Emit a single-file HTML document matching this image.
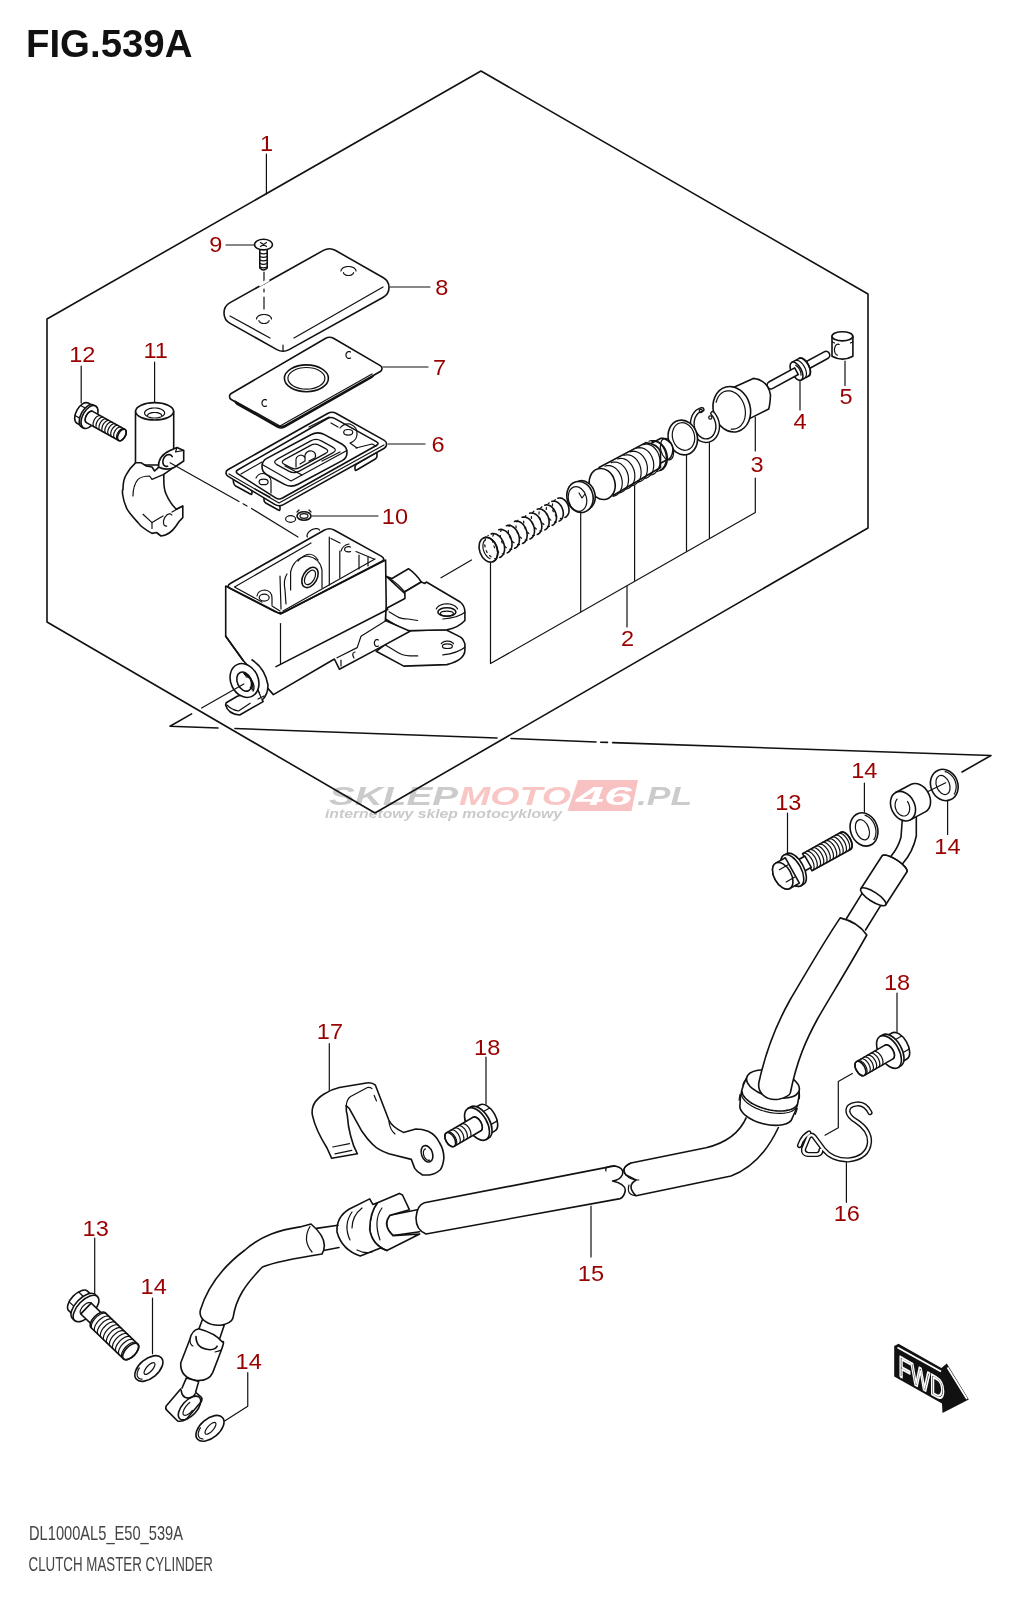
<!DOCTYPE html>
<html><head><meta charset="utf-8">
<style>
html,body{margin:0;padding:0;background:#fff;width:1024px;height:1600px;overflow:hidden}
svg{display:block;will-change:transform}
text{-webkit-font-smoothing:antialiased}
.l{fill:none;stroke:#111;stroke-width:1.6;stroke-linejoin:round;stroke-linecap:round}
.t{fill:none;stroke:#111;stroke-width:1.2;stroke-linecap:round;stroke-linejoin:round}
.f{fill:#fff;stroke:#111;stroke-width:1.6;stroke-linejoin:round}
.n{font-family:"Liberation Sans",sans-serif;font-size:22px;fill:#990000}
</style></head>
<body>
<svg width="1024" height="1600" viewBox="0 0 1024 1600">
<text x="26" y="56.5" font-family="Liberation Sans,sans-serif" font-weight="bold" font-size="38.4" fill="#111">FIG.539A</text>
<g id="wm">
<text x="329" y="805" font-family="Liberation Sans,sans-serif" font-weight="bold" font-style="italic" font-size="25" fill="#cbcbcb" textLength="129" lengthAdjust="spacingAndGlyphs">SKLEP</text>
<text x="459" y="805" font-family="Liberation Sans,sans-serif" font-weight="bold" font-style="italic" font-size="25" fill="#f9c6c6" textLength="112" lengthAdjust="spacingAndGlyphs">MOTO</text>
<path d="M578,780 L638,780 L631.5,811 L567.5,811 Z" fill="#f8c2c2"/>
<text x="576" y="805" font-family="Liberation Sans,sans-serif" font-weight="bold" font-style="italic" font-size="25" fill="#fff" textLength="56" lengthAdjust="spacingAndGlyphs">46</text>
<text x="637" y="805" font-family="Liberation Sans,sans-serif" font-weight="bold" font-style="italic" font-size="25" fill="#cbcbcb" textLength="55" lengthAdjust="spacingAndGlyphs">.PL</text>
<text x="325" y="818" font-family="Liberation Sans,sans-serif" font-weight="bold" font-style="italic" font-size="12.5" fill="#cacaca" textLength="237" lengthAdjust="spacingAndGlyphs">internetowy sklep motocyklowy</text>
</g>
<path class="l" d="M47,622 L47,319 L481,71 L868,294 L868,528 L375,813 Z" />
<path class="l" d="M191.6,713.9 L170,726.2 L218,728 M235,728.5 L497,738 M511,738.5 L596,742 M600.7,742.2 L607.5,742.4 M612.6,742.6 L991,755.5 L962,772" />
<path class="t" d="M266.4,154 L266.4,194" />
<path class="t" d="M226,245 L255,245" />
<path class="t" d="M390,287 L430,287" />
<path class="t" d="M383,367 L428,367" />
<path class="t" d="M388,444 L425,444" />
<path class="t" d="M312,516 L378,516" />
<path class="t" d="M81.2,366 L81.2,403" />
<path class="t" d="M154.6,362 L154.6,402" />
<path class="t" d="M490.5,563 L490.5,663.6 L755.3,512.5 L755.3,478 M755.3,451 L755.3,417" />
<path class="t" d="M580.7,512.5 L580.7,612" />
<path class="t" d="M634.6,485.5 L634.6,580.5" />
<path class="t" d="M686.5,455 L686.5,551" />
<path class="t" d="M709.4,442 L709.4,538" />
<path class="t" d="M627,586 L627,627" />
<path class="t" d="M800,381.5 L800,410" />
<path class="t" d="M845,361 L845,385.6" />
<path class="t" d="M864.4,783 L864.4,812" />
<path class="t" d="M787.5,813 L787.5,853" />
<path class="t" d="M947.6,799 L947.6,834.4" />
<path class="t" d="M897,993 L897,1032" />
<path class="t" d="M852.3,1073.4 L838.3,1081.5 L838.3,1127.7 L825,1135.2" />
<path class="t" d="M846.4,1162.6 L846.4,1202.3" />
<path class="t" d="M329.3,1043.7 L329.3,1093" />
<path class="t" d="M486,1057 L486,1104.3" />
<path class="t" d="M591,1206 L591,1257" />
<path class="t" d="M94.7,1238 L94.7,1294" />
<path class="t" d="M152.5,1298 L152.5,1353.8" />
<path class="t" d="M247.75,1372.5 L247.75,1406.3 L224.6,1421" />
<g id="p9">
<path class="l" d="M259.8,249 L259.8,268 Q263.5,272 267.2,268 L267.2,249" />
<path class="t" d="M260,253 Q263.5,254.8 267,253" />
<path class="t" d="M260,256.5 Q263.5,258.3 267,256.5" />
<path class="t" d="M260,260 Q263.5,261.8 267,260" />
<path class="t" d="M260,263.5 Q263.5,265.3 267,263.5" />
<path class="t" d="M260,267 Q263.5,268.8 267,267" />
<ellipse class="f" cx="263.5" cy="244.6" rx="9.0" ry="5.3" transform="rotate(0 263.5 244.6)" />
<path class="t" d="M260.5,242.5 L266.5,246.5 M260.5,246.5 L266.5,242.5" />
</g>
<g id="p8">
<path class="f" d="M230.1,302.6 L323.4,250.4 Q329.5,247.0 335.6,250.5 L383.4,277.8 Q389.0,281.0 389.0,287.5 L389.0,287.5 Q389.0,294.0 383.3,297.2 L289.1,349.6 Q283.0,353.0 276.9,349.6 L230.1,323.4 Q224.0,320.0 224.0,313.0 L224.0,313.0 Q224.0,306.0 230.1,302.6 Z" />
<path class="t" d="M230,316 L270,338 M294,338 L383,287" />
<path class="t" d="M283,345 L283,351" />
<path class="t" d="M264,272 L264,284 M264,289 L264,292 M264,297 L264,309" />
<path class="" d="M259,285.5 L269,279.8" stroke="#fff" stroke-width="3"/>
<path class="t" d="M341.0,271.0 L341.1,270.4 L341.3,269.8 L341.6,269.3 L342.0,268.8 L342.5,268.3 L343.2,267.8 L343.9,267.4 L344.8,267.1 L345.6,266.8 L346.6,266.7 L347.5,266.5 L348.5,266.5 L349.5,266.5 L350.4,266.7 L351.4,266.8 L352.2,267.1 L353.1,267.4 L353.8,267.8 L354.5,268.3 L355.0,268.8 L355.4,269.3 L355.7,269.8 L355.9,270.4 L356.0,271.0" />
<path class="t" d="M353.5,272.5 L353.5,272.9 L353.3,273.3 L353.1,273.6 L352.8,274.0 L352.5,274.3 L352.0,274.6 L351.5,274.9 L351.0,275.1 L350.4,275.3 L349.8,275.4 L349.2,275.5 L348.5,275.5 L347.8,275.5 L347.2,275.4 L346.6,275.3 L346.0,275.1 L345.5,274.9 L345.0,274.6 L344.5,274.3 L344.2,274.0 L343.9,273.6 L343.7,273.3 L343.5,272.9 L343.5,272.5" />
<path class="t" d="M256.5,319.0 L256.6,318.4 L256.8,317.8 L257.1,317.3 L257.5,316.8 L258.0,316.3 L258.7,315.8 L259.4,315.4 L260.2,315.1 L261.1,314.8 L262.1,314.7 L263.0,314.5 L264.0,314.5 L265.0,314.5 L265.9,314.7 L266.9,314.8 L267.8,315.1 L268.6,315.4 L269.3,315.8 L270.0,316.3 L270.5,316.8 L270.9,317.3 L271.2,317.8 L271.4,318.4 L271.5,319.0" />
<path class="t" d="M269.0,320.5 L269.0,320.9 L268.8,321.3 L268.6,321.6 L268.3,322.0 L268.0,322.3 L267.5,322.6 L267.0,322.9 L266.5,323.1 L265.9,323.3 L265.3,323.4 L264.7,323.5 L264.0,323.5 L263.3,323.5 L262.7,323.4 L262.1,323.3 L261.5,323.1 L261.0,322.9 L260.5,322.6 L260.0,322.3 L259.7,322.0 L259.4,321.6 L259.2,321.3 L259.0,320.9 L259.0,320.5" />
</g>
<g id="p7">
<path class="f" d="M237.2,396.8 L325.5,346.0 Q329.0,344.0 332.5,346.0 L371.4,368.5 Q374.0,370.0 374.0,373.0 L374.0,373.0 Q374.0,376.0 371.4,377.5 L284.5,427.0 Q281.0,429.0 277.5,427.0 L237.2,404.2 Q235.0,403.0 235.0,400.5 L235.0,400.5 Q235.0,398.0 237.2,396.8 Z" />
<path class="f" d="M231.2,393.5 L325.3,338.5 Q329.6,336.0 333.9,338.5 L380.3,365.6 Q382.0,366.6 382.0,368.6 L382.0,368.6 Q382.0,370.5 380.3,371.5 L285.1,425.5 Q280.8,428.0 276.5,425.5 L231.2,399.5 Q229.5,398.5 229.5,396.5 L229.5,396.5 Q229.5,394.5 231.2,393.5 Z" />
<path class="t" d="M235,401 L280,426 L372,374" />
<ellipse class="l" cx="306.4" cy="378.3" rx="22.0" ry="13.4" transform="rotate(0 306.4 378.3)" />
<ellipse class="t" cx="306.4" cy="378.3" rx="18.5" ry="10.8" transform="rotate(0 306.4 378.3)" />
<path class="t" d="M350.5,358.0 L350.0,358.3 L349.5,358.4 L349.0,358.5 L348.5,358.4 L348.0,358.3 L347.5,358.0 L347.1,357.7 L346.7,357.2 L346.4,356.8 L346.2,356.2 L346.0,355.6 L346.0,355.0 L346.0,354.4 L346.2,353.8 L346.4,353.2 L346.7,352.8 L347.1,352.3 L347.5,352.0 L348.0,351.7 L348.5,351.6 L349.0,351.5 L349.5,351.6 L350.0,351.7 L350.5,352.0" />
<path class="t" d="M266.5,406.0 L266.0,406.3 L265.5,406.4 L265.0,406.5 L264.5,406.4 L264.0,406.3 L263.5,406.0 L263.1,405.7 L262.7,405.2 L262.4,404.8 L262.2,404.2 L262.0,403.6 L262.0,403.0 L262.0,402.4 L262.2,401.8 L262.4,401.2 L262.7,400.8 L263.1,400.3 L263.5,400.0 L264.0,399.7 L264.5,399.6 L265.0,399.5 L265.5,399.6 L266.0,399.7 L266.5,400.0" />
</g>
<g id="p6">
<path class="f" d="M234.7,480.0 L250.3,489.0 Q252.0,490.0 252.0,492.0 L252.0,493.0 Q252.0,495.0 250.3,494.0 L235.7,486.0 Q234.0,485.0 233.7,483.0 L233.3,481.0 Q233.0,479.0 234.7,480.0 Z" />
<path class="f" d="M265.7,497.0 L278.3,504.0 Q280.0,505.0 280.0,507.0 L280.0,509.0 Q280.0,511.0 278.3,510.0 L265.7,503.0 Q264.0,502.0 264.0,500.0 L264.0,498.0 Q264.0,496.0 265.7,497.0 Z" />
<path class="f" d="M356.7,464.0 L375.3,453.0 Q377.0,452.0 377.0,454.0 L377.0,456.0 Q377.0,458.0 375.3,459.0 L356.7,470.0 Q355.0,471.0 355.0,469.0 L355.0,467.0 Q355.0,465.0 356.7,464.0 Z" />
<path class="f" d="M227.8,469.8 L327.6,413.5 Q332.0,411.0 336.4,413.5 L384.3,440.4 Q386.6,441.7 386.6,444.3 L386.6,444.3 Q386.6,446.9 384.3,448.2 L283.4,504.6 Q279.0,507.0 274.7,504.4 L227.8,476.1 Q226.0,475.0 226.0,472.9 L226.0,472.9 Q226.0,470.8 227.8,469.8 Z" />
<path class="t" d="M229,474 L279,503 L384,445" />
<path class="l" d="M238.0,469.7 L327.5,418.5 Q331.0,416.5 334.5,418.4 L376.3,441.6 Q379.8,443.5 376.3,445.5 L282.5,498.0 Q279.0,500.0 275.6,497.9 L237.9,473.8 Q234.5,471.7 238.0,469.7 Z" />
<path class="t" d="M241,474 L262,462 M309,427 L329,417 M331,423 L338,427" />
<path class="t" d="M356,448 L372,444 L376,446 M255,489 L270,497" />
<path class="t" d="M340,428 Q344,423 350,424 Q358,427 357,435 Q356,441 350,443 L357,448" />
<ellipse class="t" cx="348.2" cy="432.3" rx="4.5" ry="2.8" transform="rotate(0 348.2 432.3)" />
<path class="t" d="M256,478 Q259,472 266,474 Q272,477 271,485 L271,493" />
<ellipse class="t" cx="263.6" cy="481.9" rx="4.5" ry="2.8" transform="rotate(0 263.6 481.9)" />
<path class="f" d="M266.8,458.4 L310.9,434.8 Q318.0,431.0 325.0,434.9 L342.2,444.3 Q347.0,447.0 347.0,452.5 L347.0,452.5 Q347.0,458.0 342.2,460.6 L298.1,484.2 Q291.0,488.0 284.0,484.1 L266.8,474.7 Q262.0,472.0 262.0,466.5 L262.0,466.5 Q262.0,461.0 266.8,458.4 Z" />
<path class="t" d="M263,465 L291,481 L346,451" />
<path class="t" d="M277.3,459.1 L310.7,440.9 Q316.0,438.0 321.3,440.9 L332.7,447.1 Q338.0,450.0 332.7,452.9 L299.3,471.1 Q294.0,474.0 288.7,471.1 L277.3,464.9 Q272.0,462.0 277.3,459.1 Z" />
<path class="t" d="M284.4,459.6 L310.6,445.4 Q315.0,443.0 319.4,445.4 L325.6,448.6 Q330.0,451.0 325.6,453.4 L299.4,467.6 Q295.0,470.0 290.6,467.6 L284.4,464.4 Q280.0,462.0 284.4,459.6 Z" />
<path class="t" d="M285,466 L302,475 M322,461 L340,452" />
<path class="t" d="M296,467 L296,462 Q295,456 301,455 Q306,456 305,461 L300,464 M305,459 L305,455 Q307,450 312,451 Q317,453 315,458 L309,461" />
</g>
<g id="p10">
<ellipse class="t" cx="290.6" cy="519.0" rx="5.0" ry="3.3" transform="rotate(0 290.6 519.0)" />
<ellipse class="l" cx="304.0" cy="516.0" rx="7.0" ry="4.3" transform="rotate(0 304.0 516.0)" />
<ellipse class="t" cx="304.0" cy="516.0" rx="4.0" ry="2.3" transform="rotate(0 304.0 516.0)" />
<path class="t" d="M297,512 L299,510 M309,510 L311,512" />
</g>
<g transform="translate(89.5,417.0) rotate(29.0)">
<path class="f" d="M-2,-11.5 L-8,-11.5 A6.3,11.5 0 0 0 -8,11.5 L-2,11.5 Z" />
<path class="t" d="M-13.4,-5.8 L-2,-5.8 M-13.4,5.8 L-2,5.8" />
<path class="f" d="M0,-12.5 L-2,-12.5 A6.9,12.5 0 0 0 -2,12.5 L0,12.5 Z" />
<ellipse class="f" cx="0.0" cy="0.0" rx="6.9" ry="12.5" transform="rotate(0 0.0 0.0)" />
<path class="f" d="M0,-6.4 L37,-6.4 A3.5,6.4 0 0 1 37,6.4 L0,6.4 A3.5,6.4 0 0 1 0,-6.4 Z" />
<path class="t" d="M0.0,6.4 L-0.5,6.3 L-0.9,6.2 L-1.3,5.9 L-1.8,5.5 L-2.1,5.1 L-2.5,4.5 L-2.8,3.9 L-3.0,3.2 L-3.3,2.4 L-3.4,1.7 L-3.5,0.8 L-3.5,0.0 L-3.5,-0.8 L-3.4,-1.7 L-3.3,-2.4 L-3.0,-3.2 L-2.8,-3.9 L-2.5,-4.5 L-2.1,-5.1 L-1.8,-5.5 L-1.3,-5.9 L-0.9,-6.2 L-0.5,-6.3 L-0.0,-6.4" />
<path class="t" d="M8.9,6.4 L8.5,6.3 L8.0,6.1 L7.6,5.8 L7.2,5.5 L6.9,5.0 L6.5,4.4 L6.2,3.8 L6.0,3.1 L5.8,2.4 L5.7,1.6 L5.6,0.8 L5.5,0.0 L5.6,-0.8 L5.7,-1.6 L5.8,-2.4 L6.0,-3.1 L6.2,-3.8 L6.5,-4.4 L6.9,-5.0 L7.2,-5.5 L7.6,-5.8 L8.0,-6.1 L8.5,-6.3 L8.9,-6.4" />
<path class="t" d="M12.3,6.4 L11.8,6.3 L11.4,6.1 L11.0,5.8 L10.6,5.5 L10.2,5.0 L9.9,4.4 L9.6,3.8 L9.3,3.1 L9.2,2.4 L9.0,1.6 L8.9,0.8 L8.9,0.0 L8.9,-0.8 L9.0,-1.6 L9.2,-2.4 L9.3,-3.1 L9.6,-3.8 L9.9,-4.4 L10.2,-5.0 L10.6,-5.5 L11.0,-5.8 L11.4,-6.1 L11.8,-6.3 L12.3,-6.4" />
<path class="t" d="M15.7,6.4 L15.2,6.3 L14.8,6.1 L14.3,5.8 L13.9,5.5 L13.6,5.0 L13.2,4.4 L13.0,3.8 L12.7,3.1 L12.5,2.4 L12.4,1.6 L12.3,0.8 L12.3,0.0 L12.3,-0.8 L12.4,-1.6 L12.5,-2.4 L12.7,-3.1 L13.0,-3.8 L13.2,-4.4 L13.6,-5.0 L13.9,-5.5 L14.3,-5.8 L14.8,-6.1 L15.2,-6.3 L15.7,-6.4" />
<path class="t" d="M19.0,6.4 L18.6,6.3 L18.1,6.1 L17.7,5.8 L17.3,5.5 L16.9,5.0 L16.6,4.4 L16.3,3.8 L16.1,3.1 L15.9,2.4 L15.7,1.6 L15.6,0.8 L15.6,0.0 L15.6,-0.8 L15.7,-1.6 L15.9,-2.4 L16.1,-3.1 L16.3,-3.8 L16.6,-4.4 L16.9,-5.0 L17.3,-5.5 L17.7,-5.8 L18.1,-6.1 L18.6,-6.3 L19.0,-6.4" />
<path class="t" d="M22.4,6.4 L21.9,6.3 L21.5,6.1 L21.1,5.8 L20.7,5.5 L20.3,5.0 L20.0,4.4 L19.7,3.8 L19.4,3.1 L19.2,2.4 L19.1,1.6 L19.0,0.8 L19.0,0.0 L19.0,-0.8 L19.1,-1.6 L19.2,-2.4 L19.4,-3.1 L19.7,-3.8 L20.0,-4.4 L20.3,-5.0 L20.7,-5.5 L21.1,-5.8 L21.5,-6.1 L21.9,-6.3 L22.4,-6.4" />
<path class="t" d="M25.7,6.4 L25.3,6.3 L24.9,6.1 L24.4,5.8 L24.0,5.5 L23.7,5.0 L23.3,4.4 L23.0,3.8 L22.8,3.1 L22.6,2.4 L22.5,1.6 L22.4,0.8 L22.3,0.0 L22.4,-0.8 L22.5,-1.6 L22.6,-2.4 L22.8,-3.1 L23.0,-3.8 L23.3,-4.4 L23.7,-5.0 L24.0,-5.5 L24.4,-5.8 L24.9,-6.1 L25.3,-6.3 L25.7,-6.4" />
<path class="t" d="M29.1,6.4 L28.7,6.3 L28.2,6.1 L27.8,5.8 L27.4,5.5 L27.0,5.0 L26.7,4.4 L26.4,3.8 L26.2,3.1 L26.0,2.4 L25.8,1.6 L25.7,0.8 L25.7,0.0 L25.7,-0.8 L25.8,-1.6 L26.0,-2.4 L26.2,-3.1 L26.4,-3.8 L26.7,-4.4 L27.0,-5.0 L27.4,-5.5 L27.8,-5.8 L28.2,-6.1 L28.7,-6.3 L29.1,-6.4" />
<path class="t" d="M32.5,6.4 L32.0,6.3 L31.6,6.1 L31.2,5.8 L30.8,5.5 L30.4,5.0 L30.1,4.4 L29.8,3.8 L29.5,3.1 L29.3,2.4 L29.2,1.6 L29.1,0.8 L29.1,0.0 L29.1,-0.8 L29.2,-1.6 L29.3,-2.4 L29.5,-3.1 L29.8,-3.8 L30.1,-4.4 L30.4,-5.0 L30.8,-5.5 L31.2,-5.8 L31.6,-6.1 L32.0,-6.3 L32.5,-6.4" />
<path class="t" d="M35.8,6.4 L35.4,6.3 L34.9,6.1 L34.5,5.8 L34.1,5.5 L33.7,5.0 L33.4,4.4 L33.1,3.8 L32.9,3.1 L32.7,2.4 L32.5,1.6 L32.5,0.8 L32.4,0.0 L32.5,-0.8 L32.5,-1.6 L32.7,-2.4 L32.9,-3.1 L33.1,-3.8 L33.4,-4.4 L33.7,-5.0 L34.1,-5.5 L34.5,-5.8 L34.9,-6.1 L35.4,-6.3 L35.8,-6.4" />
<ellipse class="l" cx="37.0" cy="0.0" rx="3.5" ry="6.4" transform="rotate(0 37.0 0.0)" />
</g>
<g id="p11">
<path class="f" d="M135.5,411.3 L135.5,465 L173.7,465 L173.7,411.3 Z" />
<ellipse class="f" cx="154.6" cy="411.3" rx="19.0" ry="8.7" transform="rotate(0 154.6 411.3)" />
<path class="t" d="M144.6,413.0 L144.7,412.3 L144.9,411.7 L145.4,411.1 L145.9,410.5 L146.7,410.0 L147.5,409.5 L148.5,409.0 L149.6,408.7 L150.8,408.4 L152.0,408.2 L153.3,408.0 L154.6,408.0 L155.9,408.0 L157.2,408.2 L158.4,408.4 L159.6,408.7 L160.7,409.0 L161.7,409.5 L162.5,410.0 L163.3,410.5 L163.8,411.1 L164.3,411.7 L164.5,412.3 L164.6,413.0" />
<path class="t" d="M164.6,413.0 L164.5,413.7 L164.3,414.3 L163.8,414.9 L163.3,415.5 L162.5,416.0 L161.7,416.5 L160.7,417.0 L159.6,417.3 L158.4,417.6 L157.2,417.8 L155.9,418.0 L154.6,418.0 L153.3,418.0 L152.0,417.8 L150.8,417.6 L149.6,417.3 L148.5,417.0 L147.5,416.5 L146.7,416.0 L145.9,415.5 L145.4,414.9 L144.9,414.3 L144.7,413.7 L144.6,413.0" />
<path class="t" d="M147.6,415.5 L147.7,415.1 L147.8,414.7 L148.1,414.4 L148.5,414.0 L149.0,413.7 L149.7,413.4 L150.3,413.1 L151.1,412.9 L151.9,412.7 L152.8,412.6 L153.7,412.5 L154.6,412.5 L155.5,412.5 L156.4,412.6 L157.3,412.7 L158.1,412.9 L158.9,413.1 L159.5,413.4 L160.2,413.7 L160.7,414.0 L161.1,414.4 L161.4,414.7 L161.5,415.1 L161.6,415.5" />
<path class="f" d="M135.5,462.8 L141.3,462.8 L146.3,466 L152,467 L154.6,471 L158,467.8 L162,464.5 L172.9,467.8 L163.75,474.4 C164,482 163,488 166.2,494.3 C169,501 173,506 176.2,509.3 L182.8,506 L182.8,517.6 Q179,521 176,526 Q170,535 161,536 L156.5,532.5 L152,533.4 C146,530 141,527 138,522.6 C131,515 127,510 126.4,507.6 C122,498 122,489 123,489.4 C123,482 124,478 126.4,474.4 C129,469 132,466 135.5,462.8 Z" />
<path class="t" d="M133,496 C133,488 135,483 138,479.4 Q142,476 149.6,476 L152,479.4 L163.75,474.4" />
<path class="t" d="M143,514.3 L152,522.6 L152,528.4" />
<path class="t" d="M166.7,526.1 L166.0,526.1 L165.4,525.9 L164.8,525.6 L164.3,525.2 L163.9,524.6 L163.7,523.9 L163.5,523.0 L163.5,522.2 L163.5,521.2 L163.7,520.2 L164.0,519.3 L164.4,518.3 L164.9,517.4 L165.4,516.5 L166.1,515.8 L166.7,515.1 L167.4,514.6 L168.2,514.2 L168.9,514.0 L169.6,513.9 L170.3,513.9 L170.9,514.2 L171.4,514.5 L171.8,515.0" />
<path class="t" d="M172,512 L182.8,506 M152,522.6 L163,516" />
<path class="f" d="M158.5,467 Q158,456 170,450.5 L177,447.5 L183.7,450.4 L183.7,461 L174,467.5 Q166,471 158.5,467 Z" />
<path class="t" d="M177,447.5 L175.5,452 L183.7,450.4" />
<path class="l" d="M167.6,466.3 L166.8,466.4 L165.9,466.4 L165.2,466.1 L164.5,465.7 L163.9,465.1 L163.4,464.4 L163.1,463.6 L162.9,462.6 L162.9,461.6 L163.0,460.6 L163.2,459.6 L163.6,458.6 L164.1,457.6 L164.8,456.8 L165.5,456.0 L166.3,455.4 L167.1,454.9 L168.0,454.7 L168.8,454.6 L169.7,454.6 L170.4,454.9 L171.1,455.3 L171.7,455.9 L172.2,456.6" />
</g>
<path class="t" d="M170,462.8 L239,501.5 M243,503.8 L247,506 M251.5,508.5 L298,537" />
<g id="body">
<path class="f" d="M376.2,651.3 L403.8,666.1 L446.9,664.6 Q464.9,660 464.9,650 L464.9,644.1 Q463,638 460.2,636.9 L445.9,629.7 L403,631 Z" />
<path class="t" d="M385.4,645.1 L397,652 Q402,655.5 410,655.9 L417.7,655.9 M442.8,654.9 Q458,653 464.9,647.2" />
<path class="t" d="M441.3,643.7 L441.5,643.4 L441.9,643.0 L442.2,642.7 L442.7,642.4 L443.1,642.1 L443.7,641.8 L444.2,641.6 L444.8,641.4 L445.4,641.3 L446.1,641.2 L446.7,641.1 L447.4,641.1 L448.1,641.1 L448.7,641.2 L449.4,641.3 L450.0,641.4 L450.6,641.6 L451.1,641.8 L451.7,642.1 L452.1,642.4 L452.6,642.7 L452.9,643.0 L453.3,643.4 L453.5,643.7" />
<ellipse class="t" cx="447.4" cy="646.2" rx="5.0" ry="2.3" transform="rotate(0 447.4 646.2)" />
<path class="f" d="M386.4,576.4 L392,578.5 L408.5,568.7 Q416,574 421.3,582 L404.9,591.8 L408.5,596.9 Z" />
<path class="t" d="M386.4,576.4 Q400,584 408.5,596.9" />
<path class="f" d="M385.4,619 L385.4,612.3 Q385.5,609 388,607.5 L404.9,598.5 L404.9,591.8 L421.3,582 L424.9,583.4 L426.4,582 L460.2,602 Q464.9,606 464.9,612 L464.9,620.5 Q458,628 446.9,629.7 L404.9,630.8 Z" />
<path class="t" d="M389,611.8 L397,616.5 Q401,619 408,619 L417.7,620.5 M442.8,619 Q458,618 464.9,612.3" />
<path class="t" d="M436.3,609.0 L436.6,608.3 L437.1,607.6 L437.8,606.9 L438.5,606.3 L439.3,605.7 L440.2,605.2 L441.2,604.8 L442.3,604.5 L443.4,604.2 L444.5,604.0 L445.7,603.8 L446.9,603.8 L448.1,603.8 L449.3,604.0 L450.4,604.2 L451.5,604.5 L452.6,604.8 L453.6,605.2 L454.5,605.7 L455.3,606.3 L456.0,606.9 L456.7,607.6 L457.2,608.3 L457.5,609.0" />
<ellipse class="l" cx="446.9" cy="612.0" rx="9.0" ry="4.3" transform="rotate(0 446.9 612.0)" />
<ellipse class="t" cx="446.9" cy="613.6" rx="6.5" ry="2.4" transform="rotate(0 446.9 613.6)" />
<path class="f" d="M243,660.3 L273.4,694.6 L334.4,659 L339.4,669.2 L377.5,648.9 L410,631.3 L385.4,620.5 L386.2,605 L385.6,560 L280.5,614 L225.7,586 L225.7,636.2 Z" />
<path class="l" d="M230.7,583.2 L324.1,530.3 Q329.3,527.3 334.5,530.2 L381.2,556.1 Q386.4,559.0 381.1,561.8 L285.3,611.5 Q280.0,614.3 274.7,611.6 L230.8,588.9 Q225.5,586.2 230.7,583.2 Z" />
<path class="t" d="M234.5,587 L311,543 M234.5,587 L262,602 M272,606 L280,611 M283,611 L375,559" />
<path class="t" d="M331,538.5 L340,543 M356,551.5 L374,559" />
<path class="t" d="M329.3,537 L329.3,585 M339.8,551 L339.8,578 M359,555 L359,569 M368,557 L368,566" />
<path class="t" d="M280,576 L281,609 M287,574 Q283,580 285,590 L286,604" />
<path class="t" d="M290.6,590 L290.6,572 Q294,558 307,556 Q320,558 322,570 L322,588" />
<path class="t" d="M298,561 Q310,548 318,560" />
<ellipse class="l" cx="310.0" cy="577.4" rx="7.0" ry="11.0" transform="rotate(30 310.0 577.4)" />
<ellipse class="t" cx="310.0" cy="577.4" rx="4.5" ry="8.0" transform="rotate(30 310.0 577.4)" />
<ellipse class="t" cx="264.2" cy="597.6" rx="5.0" ry="3.5" transform="rotate(0 264.2 597.6)" />
<path class="t" d="M257,596 Q258,590 265,590 Q272,591 272,598 L272,605" />
<path class="t" d="M350.6,551.6 L350.0,551.7 L349.3,551.9 L348.6,551.9 L347.9,551.9 L347.2,551.7 L346.6,551.6 L346.0,551.3 L345.5,551.0 L345.1,550.6 L344.8,550.2 L344.7,549.8 L344.6,549.3 L344.7,548.8 L344.8,548.4 L345.1,548.0 L345.5,547.6 L346.0,547.3 L346.6,547.0 L347.2,546.9 L347.9,546.7 L348.6,546.7 L349.3,546.7 L350.0,546.9 L350.6,547.0" />
<path class="t" d="M341,551 Q343,545 349,544" />
<path class="t" d="M307.3,537.0 L307.1,536.5 L307.0,536.0 L307.0,535.4 L307.1,534.8 L307.4,534.2 L307.7,533.5 L308.1,532.9 L308.6,532.2 L309.2,531.6 L309.9,531.1 L310.6,530.5 L311.4,530.0 L312.2,529.6 L313.0,529.2 L313.9,529.0 L314.7,528.8 L315.5,528.6 L316.3,528.6 L317.0,528.6 L317.6,528.7 L318.2,528.9 L318.7,529.2 L319.1,529.6 L319.5,530.0" />
<path class="t" d="M280.5,623.5 L280.5,664" />
<path class="l" d="M276,666.6 L387.7,609.5" />
<path class="l" d="M225.7,636.2 L243,660.3" />
<path class="t" d="M337,657.8 L357.2,647.6 L361,636.2 L385.4,621" />
<path class="t" d="M341,660 L341,666 M354,658 Q351,653 355,652" />
<path class="t" d="M378.3,646.0 L377.9,646.3 L377.5,646.4 L377.0,646.5 L376.5,646.4 L376.1,646.3 L375.7,646.0 L375.3,645.7 L375.0,645.2 L374.7,644.8 L374.6,644.2 L374.4,643.6 L374.4,643.0 L374.4,642.4 L374.6,641.8 L374.7,641.2 L375.0,640.8 L375.3,640.3 L375.7,640.0 L376.1,639.7 L376.5,639.6 L377.0,639.5 L377.5,639.6 L377.9,639.7 L378.3,640.0" />
<path class="f" d="M226.2,702.7 L237.3,696.3 L258,690 L263.1,701.6 L239.7,715 Q228,714 225.6,705 Z" />
<path class="t" d="M226.8,705 Q232,710 238.5,711 L250.2,703.3" />
<path class="f" d="M251.5,659.5 Q265,668 268,685 Q268,695 262,700" />
<ellipse class="f" cx="244.5" cy="680.5" rx="13.7" ry="17.5" transform="rotate(-25 244.5 680.5)" />
<ellipse class="l" cx="244.4" cy="681.6" rx="7.0" ry="10.0" transform="rotate(-25 244.4 681.6)" />
<path class="t" d="M243.5,673.2 L244.1,673.3 L244.8,673.4 L245.4,673.7 L246.0,674.0 L246.6,674.4 L247.2,674.9 L247.8,675.4 L248.4,676.0 L248.9,676.7 L249.4,677.4 L249.8,678.1 L250.2,678.9 L250.5,679.7 L250.8,680.5 L251.0,681.3 L251.2,682.1 L251.3,682.9 L251.3,683.7 L251.3,684.5 L251.2,685.2 L251.1,685.9 L250.9,686.5 L250.6,687.1 L250.3,687.6" />
<path class="t" d="M244.4,674.4 L245.0,674.5 L245.7,674.6 L246.3,674.9 L246.9,675.2 L247.5,675.6 L248.1,676.1 L248.7,676.6 L249.3,677.2 L249.8,677.9 L250.3,678.6 L250.7,679.3 L251.1,680.1 L251.4,680.9 L251.7,681.7 L251.9,682.5 L252.1,683.3 L252.2,684.1 L252.2,684.9 L252.2,685.7 L252.1,686.4 L252.0,687.1 L251.8,687.7 L251.5,688.3 L251.2,688.8" />
<path class="t" d="M245.3,675.6 L245.9,675.7 L246.6,675.8 L247.2,676.1 L247.8,676.4 L248.4,676.8 L249.0,677.3 L249.6,677.8 L250.2,678.4 L250.7,679.1 L251.2,679.8 L251.6,680.5 L252.0,681.3 L252.3,682.1 L252.6,682.9 L252.8,683.7 L253.0,684.5 L253.1,685.3 L253.1,686.1 L253.1,686.9 L253.0,687.6 L252.9,688.3 L252.7,688.9 L252.4,689.5 L252.1,690.0" />
<path class="t" d="M246.2,676.8 L246.8,676.9 L247.5,677.0 L248.1,677.3 L248.7,677.6 L249.3,678.0 L249.9,678.5 L250.5,679.0 L251.1,679.6 L251.6,680.3 L252.1,681.0 L252.5,681.7 L252.9,682.5 L253.2,683.3 L253.5,684.1 L253.7,684.9 L253.9,685.7 L254.0,686.5 L254.0,687.3 L254.0,688.1 L253.9,688.8 L253.8,689.5 L253.6,690.1 L253.3,690.7 L253.0,691.2" />
<path class="t" d="M258,699 L264,696" />
</g>
<path class="t" d="M201.6,708 L243.8,684" />
<path class="t" d="M441,577.8 L471.5,560" />
<g id="pin">
<path class="f" d="M832,336.3 L832,356.2 Q842.5,362 852.9,356.2 L852.9,336.3 Z" />
<ellipse class="f" cx="842.4" cy="336.3" rx="10.4" ry="4.6" transform="rotate(0 842.4 336.3)" />
<path class="t" d="M837.4,355.1 L836.9,354.9 L836.5,354.7 L836.1,354.3 L835.7,353.8 L835.3,353.3 L835.0,352.7 L834.8,352.0 L834.6,351.3 L834.5,350.5 L834.5,349.8 L834.5,349.0 L834.6,348.3 L834.8,347.6 L835.0,346.9 L835.3,346.3 L835.6,345.7 L836.0,345.2 L836.4,344.8 L836.8,344.5 L837.3,344.3 L837.8,344.2 L838.3,344.2 L838.7,344.3 L839.2,344.5" />
<path class="t" d="M832.5,342 L834.5,343 M852.5,342 L850.5,343" />
</g>
<g id="rod" transform="translate(796.5,371.2) rotate(-28.5)">
<path class="f" d="M8,-3.8 L33.5,-3.8 A3.8,3.8 0 0 1 33.5,3.8 L8,3.8 Z" />
<path class="f" d="M0,-10 L8.5,-10 A5,10 0 0 1 8.5,10 L0,10 Z" />
<path class="l" d="M8.5,-10.0 L9.2,-9.9 L9.8,-9.7 L10.4,-9.2 L11.0,-8.7 L11.5,-7.9 L12.0,-7.1 L12.5,-6.1 L12.8,-5.0 L13.1,-3.8 L13.3,-2.6 L13.5,-1.3 L13.5,0.0 L13.5,1.3 L13.3,2.6 L13.1,3.8 L12.8,5.0 L12.5,6.1 L12.0,7.1 L11.5,7.9 L11.0,8.7 L10.4,9.2 L9.8,9.7 L9.2,9.9 L8.5,10.0" />
<path class="t" d="M5.3,-9.4 L5.8,-9.1 L6.3,-8.7 L6.8,-8.2 L7.2,-7.6 L7.6,-6.9 L7.9,-6.1 L8.3,-5.2 L8.5,-4.3 L8.7,-3.2 L8.9,-2.2 L9.0,-1.1 L9.0,0.0 L9.0,1.1 L8.9,2.2 L8.7,3.2 L8.5,4.3 L8.3,5.2 L7.9,6.1 L7.6,6.9 L7.2,7.6 L6.8,8.2 L6.3,8.7 L5.8,9.1 L5.3,9.4" />
<ellipse class="f" cx="0.0" cy="0.0" rx="5.0" ry="10.0" transform="rotate(0 0.0 0.0)" />
<path class="t" d="M2.0,-5.6 L2.2,-5.3 L2.4,-5.0 L2.6,-4.6 L2.8,-4.2 L3.0,-3.7 L3.1,-3.2 L3.2,-2.7 L3.3,-2.2 L3.4,-1.7 L3.5,-1.1 L3.5,-0.6 L3.5,0.0 L3.5,0.6 L3.5,1.1 L3.4,1.7 L3.3,2.2 L3.2,2.7 L3.1,3.2 L3.0,3.7 L2.8,4.2 L2.6,4.6 L2.4,5.0 L2.2,5.3 L2.0,5.6" />
<path class="f" d="M-29,-3.8 L0,-3.8 L0,3.8 L-29,3.8 A3.8,3.8 0 0 1 -29,-3.8 Z" />
</g>
<g id="boot">
<path class="f" d="M732.8,387.7 L753.3,378.4 Q768,380 770.5,395 Q770,405 768.7,409 L750,418.4 Z" />
<ellipse class="f" cx="731.8" cy="409.2" rx="18.5" ry="23.0" transform="rotate(-15 731.8 409.2)" />
<path class="t" d="M716.1,402.3 L717.1,399.2 L718.5,396.5 L720.3,394.2 L722.4,392.5 L724.8,391.3 L727.5,390.8 L730.2,390.9 L732.9,391.7 L735.5,393.1 L738.0,395.0 L740.2,397.5 L742.1,400.3 L743.6,403.5 L744.7,406.9 L745.3,410.4 L745.4,413.9 L745.0,417.3 L744.1,420.4 L742.7,423.2 L741.0,425.5 L738.9,427.3 L736.5,428.5 L733.9,429.1 L731.2,429.1" />
</g>
<g id="clip">
<path class="" d="M712.6,413.4 L713.9,415.0 L715.0,416.7 L716.0,418.6 L716.7,420.5 L717.3,422.6 L717.6,424.7 L717.7,426.8 L717.5,428.9 L717.1,430.9 L716.5,432.8 L715.7,434.6 L714.7,436.2 L713.5,437.5 L712.2,438.7 L710.7,439.6 L709.1,440.2 L707.5,440.6 L705.8,440.7 L704.1,440.4 L702.4,440.0 L700.7,439.2 L699.2,438.2 L697.7,436.9 L696.4,435.4 L695.2,433.7 L694.2,431.9 L693.4,429.9 L692.8,427.9 L692.5,425.8 L692.3,423.6 L692.4,421.6 L692.8,419.5 L693.3,417.6 L694.1,415.8 L695.1,414.2 L696.2,412.7 L697.5,411.5 L699.0,410.6 L700.5,409.9 L702.1,409.5" fill="none" stroke="#111" stroke-width="5" stroke-linecap="round"/>
<path class="" d="M712.6,413.4 L713.9,415.0 L715.0,416.7 L716.0,418.6 L716.7,420.5 L717.3,422.6 L717.6,424.7 L717.7,426.8 L717.5,428.9 L717.1,430.9 L716.5,432.8 L715.7,434.6 L714.7,436.2 L713.5,437.5 L712.2,438.7 L710.7,439.6 L709.1,440.2 L707.5,440.6 L705.8,440.7 L704.1,440.4 L702.4,440.0 L700.7,439.2 L699.2,438.2 L697.7,436.9 L696.4,435.4 L695.2,433.7 L694.2,431.9 L693.4,429.9 L692.8,427.9 L692.5,425.8 L692.3,423.6 L692.4,421.6 L692.8,419.5 L693.3,417.6 L694.1,415.8 L695.1,414.2 L696.2,412.7 L697.5,411.5 L699.0,410.6 L700.5,409.9 L702.1,409.5" fill="none" stroke="#fff" stroke-width="2.2" stroke-linecap="round"/>
<ellipse class="t" cx="700.8" cy="411.0" rx="1.6" ry="1.6" transform="rotate(0 700.8 411.0)" />
<ellipse class="t" cx="710.3" cy="417.5" rx="1.6" ry="1.6" transform="rotate(0 710.3 417.5)" />
</g>
<g id="ring">
<ellipse class="f" cx="682.8" cy="437.5" rx="14.5" ry="17.5" transform="rotate(-15 682.8 437.5)" />
<ellipse class="t" cx="683.5" cy="436.5" rx="11.0" ry="14.0" transform="rotate(-15 683.5 436.5)" />
</g>
<g id="piston">
<path class="f" d="M661,438.2 L663.4,438.2 Q673,442 673,450 Q672,459 666.3,460.2 L655,466 L650,444 Z" />
<ellipse class="t" cx="667.0" cy="449.2" rx="6.2" ry="11.0" transform="rotate(-15 667.0 449.2)" />
<path class="f" d="M599,467.5 L645.8,442.6 Q658,444 660.5,452 L660.5,467.5 L613.6,495.3 Z" />
<path class="t" d="M604.9,466.2 L606.5,465.7 L608.2,465.5 L609.9,465.6 L611.6,466.1 L613.2,466.8 L614.8,467.7 L616.3,468.9 L617.7,470.4 L619.0,472.0 L620.0,473.9 L620.9,475.8 L621.6,477.9 L622.0,480.0 L622.3,482.1 L622.2,484.3 L622.0,486.3 L621.5,488.3 L620.8,490.1 L619.9,491.7 L618.8,493.2 L617.6,494.4 L616.2,495.3 L614.6,496.0 L613.0,496.4" />
<path class="t" d="M611.2,462.6 L612.8,462.1 L614.5,462.0 L616.2,462.1 L617.9,462.5 L619.5,463.2 L621.1,464.1 L622.6,465.4 L624.0,466.8 L625.3,468.5 L626.3,470.3 L627.2,472.3 L627.9,474.3 L628.3,476.4 L628.5,478.6 L628.5,480.7 L628.3,482.7 L627.8,484.7 L627.1,486.5 L626.2,488.2 L625.1,489.6 L623.9,490.8 L622.5,491.7 L620.9,492.4 L619.3,492.8" />
<path class="t" d="M617.5,459.0 L619.1,458.6 L620.8,458.4 L622.4,458.5 L624.1,458.9 L625.8,459.6 L627.4,460.6 L628.9,461.8 L630.3,463.3 L631.5,464.9 L632.6,466.7 L633.5,468.7 L634.2,470.8 L634.6,472.9 L634.8,475.0 L634.8,477.1 L634.6,479.2 L634.1,481.1 L633.4,482.9 L632.5,484.6 L631.4,486.0 L630.1,487.2 L628.7,488.2 L627.2,488.8 L625.6,489.2" />
<path class="t" d="M623.8,455.4 L625.4,455.0 L627.0,454.8 L628.7,454.9 L630.4,455.3 L632.1,456.0 L633.7,457.0 L635.2,458.2 L636.6,459.7 L637.8,461.3 L638.9,463.2 L639.8,465.1 L640.4,467.2 L640.9,469.3 L641.1,471.4 L641.1,473.6 L640.9,475.6 L640.4,477.6 L639.7,479.4 L638.8,481.0 L637.7,482.4 L636.4,483.6 L635.0,484.6 L633.5,485.3 L631.9,485.7" />
<path class="t" d="M630.1,451.9 L631.7,451.4 L633.3,451.2 L635.0,451.4 L636.7,451.8 L638.4,452.5 L640.0,453.4 L641.5,454.7 L642.9,456.1 L644.1,457.8 L645.2,459.6 L646.1,461.5 L646.7,463.6 L647.2,465.7 L647.4,467.9 L647.4,470.0 L647.1,472.0 L646.7,474.0 L646.0,475.8 L645.1,477.4 L644.0,478.9 L642.7,480.1 L641.3,481.0 L639.8,481.7 L638.2,482.1" />
<path class="t" d="M636.4,448.3 L638.0,447.8 L639.6,447.7 L641.3,447.8 L643.0,448.2 L644.7,448.9 L646.3,449.9 L647.8,451.1 L649.2,452.5 L650.4,454.2 L651.5,456.0 L652.3,458.0 L653.0,460.0 L653.5,462.2 L653.7,464.3 L653.7,466.4 L653.4,468.5 L653.0,470.4 L652.3,472.2 L651.4,473.9 L650.3,475.3 L649.0,476.5 L647.6,477.5 L646.1,478.1 L644.5,478.5" />
<path class="t" d="M642.7,444.7 L644.2,444.3 L645.9,444.1 L647.6,444.2 L649.3,444.6 L650.9,445.3 L652.5,446.3 L654.1,447.5 L655.4,449.0 L656.7,450.6 L657.8,452.4 L658.6,454.4 L659.3,456.5 L659.8,458.6 L660.0,460.7 L660.0,462.8 L659.7,464.9 L659.2,466.8 L658.5,468.7 L657.6,470.3 L656.5,471.7 L655.3,472.9 L653.9,473.9 L652.4,474.6 L650.8,474.9" />
<path class="t" d="M648.9,441.2 L650.5,440.7 L652.2,440.5 L653.9,440.6 L655.6,441.1 L657.2,441.8 L658.8,442.7 L660.3,443.9 L661.7,445.4 L663.0,447.0 L664.0,448.9 L664.9,450.8 L665.6,452.9 L666.0,455.0 L666.3,457.1 L666.2,459.3 L666.0,461.3 L665.5,463.3 L664.8,465.1 L663.9,466.7 L662.8,468.2 L661.6,469.4 L660.2,470.3 L658.6,471.0 L657.0,471.4" />
<path class="l" d="M652.1,441.5 L653.5,441.3 L655.0,441.3 L656.5,441.5 L658.0,442.0 L659.4,442.8 L660.8,443.7 L662.1,444.9 L663.3,446.3 L664.3,447.8 L665.3,449.5 L666.0,451.3 L666.6,453.2 L667.0,455.1 L667.3,457.0 L667.3,458.9 L667.1,460.8 L666.8,462.6 L666.3,464.2 L665.5,465.8 L664.7,467.1 L663.7,468.3 L662.5,469.3 L661.2,470.0 L659.9,470.5" />
<ellipse class="f" cx="602.2" cy="484.0" rx="12.8" ry="15.7" transform="rotate(-15 602.2 484.0)" />
</g>
<g id="cup">
<ellipse class="f" cx="583.0" cy="495.5" rx="12.0" ry="15.0" transform="rotate(-15 583.0 495.5)" />
<ellipse class="f" cx="580.0" cy="497.0" rx="13.0" ry="15.7" transform="rotate(-15 580.0 497.0)" />
<ellipse class="t" cx="577.5" cy="499.0" rx="9.0" ry="12.5" transform="rotate(-15 577.5 499.0)" />
<path class="t" d="M579,493 L582,498 L585,494" />
</g>
<g id="spring">
<path class="l" d="M557.9,498.3 L558.8,498.0 L559.8,498.0 L560.8,498.1 L561.8,498.3 L562.8,498.8 L563.7,499.4 L564.6,500.1 L565.5,500.9 L566.3,501.9 L567.0,503.0 L567.7,504.2 L568.2,505.4 L568.6,506.7 L568.8,508.0 L569.0,509.3 L569.0,510.5 L568.9,511.8 L568.7,512.9 L568.3,514.0 L567.8,514.9 L567.2,515.8 L566.5,516.5 L565.7,517.1 L564.9,517.5" stroke-width="1.4"/>
<path class="t" d="M562.2,518.5 L561.3,518.6 L560.4,518.4 L559.5,518.2 L558.7,517.8 L557.8,517.3 L557.0,516.7 L556.2,516.0 L555.4,515.2 L554.7,514.3 L554.1,513.3 L553.6,512.2 L553.1,511.1 L552.8,510.0 L552.5,508.9 L552.3,507.7 L552.3,506.6 L552.3,505.5 L552.5,504.4 L552.7,503.4 L553.1,502.5 L553.5,501.6 L554.0,500.8 L554.6,500.2 L555.3,499.7" stroke-width="0.7" stroke-dasharray="2 4"/>
<path class="l" d="M551.9,501.4 L552.9,501.2 L553.8,501.1 L554.8,501.2 L555.9,501.5 L556.9,501.9 L557.9,502.5 L558.8,503.3 L559.7,504.2 L560.5,505.2 L561.3,506.3 L561.9,507.5 L562.4,508.7 L562.8,510.0 L563.1,511.4 L563.3,512.7 L563.3,514.0 L563.2,515.2 L562.9,516.4 L562.5,517.5 L562.1,518.5 L561.5,519.4 L560.7,520.1 L559.9,520.7 L559.1,521.1" stroke-width="1.4"/>
<path class="t" d="M556.3,522.2 L555.4,522.2 L554.5,522.1 L553.6,521.8 L552.7,521.4 L551.9,520.9 L551.0,520.3 L550.2,519.6 L549.4,518.7 L548.7,517.8 L548.1,516.8 L547.5,515.7 L547.1,514.6 L546.7,513.4 L546.4,512.2 L546.3,511.1 L546.2,509.9 L546.3,508.8 L546.4,507.7 L546.7,506.6 L547.0,505.7 L547.4,504.8 L548.0,504.0 L548.6,503.4 L549.3,502.8" stroke-width="0.7" stroke-dasharray="2 4"/>
<path class="l" d="M544.8,505.2 L545.8,504.9 L546.8,504.9 L547.8,505.0 L548.9,505.3 L549.9,505.7 L550.9,506.3 L551.9,507.1 L552.8,508.0 L553.6,509.0 L554.4,510.2 L555.0,511.4 L555.6,512.7 L556.0,514.0 L556.3,515.4 L556.4,516.7 L556.5,518.1 L556.3,519.4 L556.1,520.6 L555.7,521.7 L555.2,522.7 L554.6,523.6 L553.9,524.3 L553.1,524.9 L552.2,525.3" stroke-width="1.4"/>
<path class="t" d="M549.4,526.4 L548.5,526.5 L547.6,526.3 L546.6,526.1 L545.7,525.7 L544.8,525.2 L543.9,524.5 L543.1,523.7 L542.3,522.9 L541.6,521.9 L541.0,520.9 L540.4,519.8 L539.9,518.6 L539.6,517.4 L539.3,516.2 L539.1,515.0 L539.0,513.8 L539.1,512.7 L539.2,511.6 L539.5,510.5 L539.8,509.5 L540.3,508.6 L540.8,507.8 L541.5,507.2 L542.2,506.6" stroke-width="0.7" stroke-dasharray="2 4"/>
<path class="l" d="M537.2,509.2 L538.2,509.0 L539.2,508.9 L540.3,509.0 L541.4,509.3 L542.4,509.8 L543.4,510.4 L544.4,511.2 L545.4,512.1 L546.2,513.2 L547.0,514.4 L547.7,515.6 L548.2,516.9 L548.6,518.3 L548.9,519.7 L549.1,521.1 L549.1,522.4 L549.0,523.8 L548.8,525.0 L548.4,526.1 L547.9,527.2 L547.2,528.1 L546.5,528.8 L545.7,529.4 L544.8,529.9" stroke-width="1.4"/>
<path class="t" d="M541.9,531.0 L541.0,531.0 L540.1,530.9 L539.1,530.6 L538.2,530.2 L537.3,529.7 L536.4,529.0 L535.5,528.2 L534.7,527.3 L534.0,526.4 L533.3,525.3 L532.8,524.2 L532.3,523.0 L531.9,521.8 L531.6,520.5 L531.4,519.3 L531.4,518.1 L531.4,516.9 L531.6,515.7 L531.8,514.7 L532.2,513.7 L532.6,512.7 L533.2,511.9 L533.8,511.2 L534.5,510.7" stroke-width="0.7" stroke-dasharray="2 4"/>
<path class="l" d="M529.7,513.3 L530.7,513.0 L531.7,513.0 L532.8,513.1 L533.9,513.4 L534.9,513.8 L536.0,514.5 L537.0,515.3 L538.0,516.3 L538.8,517.3 L539.6,518.5 L540.3,519.8 L540.9,521.2 L541.3,522.6 L541.6,524.0 L541.8,525.4 L541.8,526.8 L541.7,528.2 L541.4,529.4 L541.0,530.6 L540.5,531.7 L539.9,532.6 L539.1,533.4 L538.3,534.0 L537.3,534.4" stroke-width="1.4"/>
<path class="t" d="M534.5,535.5 L533.6,535.5 L532.6,535.4 L531.6,535.1 L530.7,534.7 L529.7,534.2 L528.8,533.5 L528.0,532.7 L527.1,531.8 L526.4,530.8 L525.7,529.7 L525.1,528.5 L524.6,527.3 L524.2,526.1 L523.9,524.8 L523.8,523.6 L523.7,522.3 L523.7,521.1 L523.9,519.9 L524.1,518.8 L524.5,517.8 L525.0,516.9 L525.6,516.0 L526.2,515.3 L526.9,514.7" stroke-width="0.7" stroke-dasharray="2 4"/>
<path class="l" d="M522.1,517.3 L523.1,517.1 L524.1,517.0 L525.2,517.1 L526.4,517.4 L527.5,517.9 L528.5,518.6 L529.6,519.4 L530.5,520.4 L531.4,521.5 L532.2,522.7 L532.9,524.0 L533.5,525.4 L534.0,526.9 L534.3,528.3 L534.5,529.8 L534.5,531.2 L534.4,532.6 L534.1,533.9 L533.7,535.1 L533.2,536.1 L532.5,537.1 L531.7,537.9 L530.9,538.5 L529.9,539.0" stroke-width="1.4"/>
<path class="t" d="M527.1,540.1 L526.1,540.1 L525.1,540.0 L524.1,539.7 L523.2,539.3 L522.2,538.7 L521.3,538.0 L520.4,537.2 L519.5,536.3 L518.8,535.2 L518.1,534.1 L517.5,532.9 L517.0,531.7 L516.6,530.4 L516.3,529.1 L516.1,527.8 L516.0,526.6 L516.1,525.3 L516.2,524.1 L516.5,523.0 L516.9,521.9 L517.3,521.0 L517.9,520.1 L518.6,519.4 L519.3,518.8" stroke-width="0.7" stroke-dasharray="2 4"/>
<path class="l" d="M514.5,521.4 L515.5,521.1 L516.6,521.1 L517.7,521.2 L518.9,521.5 L520.0,522.0 L521.1,522.7 L522.1,523.5 L523.1,524.5 L524.0,525.6 L524.9,526.9 L525.6,528.2 L526.2,529.7 L526.6,531.1 L526.9,532.6 L527.1,534.1 L527.2,535.6 L527.0,537.0 L526.8,538.3 L526.4,539.5 L525.8,540.6 L525.2,541.6 L524.4,542.4 L523.5,543.0 L522.5,543.5" stroke-width="1.4"/>
<path class="t" d="M519.6,544.6 L518.7,544.6 L517.7,544.5 L516.6,544.2 L515.6,543.8 L514.7,543.2 L513.7,542.5 L512.8,541.7 L512.0,540.7 L511.2,539.7 L510.5,538.5 L509.9,537.3 L509.3,536.0 L508.9,534.7 L508.6,533.4 L508.4,532.1 L508.3,530.8 L508.4,529.5 L508.5,528.3 L508.8,527.1 L509.2,526.1 L509.7,525.1 L510.3,524.2 L510.9,523.5 L511.7,522.9" stroke-width="0.7" stroke-dasharray="2 4"/>
<path class="l" d="M506.5,525.7 L507.5,525.4 L508.7,525.3 L509.8,525.5 L510.9,525.8 L512.1,526.3 L513.2,527.0 L514.3,527.8 L515.3,528.9 L516.2,530.0 L517.1,531.3 L517.8,532.7 L518.4,534.1 L518.9,535.6 L519.2,537.2 L519.4,538.7 L519.4,540.2 L519.3,541.6 L519.0,543.0 L518.6,544.2 L518.1,545.3 L517.4,546.3 L516.6,547.2 L515.7,547.8 L514.7,548.3" stroke-width="1.4"/>
<path class="t" d="M511.8,549.4 L510.8,549.4 L509.8,549.3 L508.8,549.0 L507.7,548.5 L506.7,547.9 L505.8,547.2 L504.8,546.4 L504.0,545.4 L503.2,544.3 L502.4,543.2 L501.8,541.9 L501.3,540.6 L500.9,539.3 L500.5,537.9 L500.3,536.6 L500.3,535.3 L500.3,534.0 L500.5,532.7 L500.7,531.5 L501.1,530.4 L501.6,529.4 L502.2,528.5 L502.9,527.8 L503.7,527.2" stroke-width="0.7" stroke-dasharray="2 4"/>
<path class="l" d="M498.8,529.8 L499.9,529.5 L501.0,529.4 L502.2,529.6 L503.3,529.9 L504.5,530.4 L505.7,531.1 L506.8,532.0 L507.8,533.1 L508.8,534.2 L509.6,535.5 L510.4,537.0 L511.0,538.4 L511.4,540.0 L511.8,541.5 L512.0,543.1 L512.0,544.6 L511.9,546.1 L511.6,547.4 L511.2,548.7 L510.6,549.9 L509.9,550.9 L509.1,551.7 L508.2,552.4 L507.2,552.9" stroke-width="1.4"/>
<path class="t" d="M504.3,554.0 L503.2,554.0 L502.2,553.9 L501.2,553.6 L500.1,553.1 L499.1,552.5 L498.1,551.8 L497.2,550.9 L496.3,549.9 L495.4,548.8 L494.7,547.6 L494.1,546.4 L493.5,545.0 L493.1,543.7 L492.8,542.3 L492.6,540.9 L492.5,539.5 L492.5,538.2 L492.7,536.9 L493.0,535.7 L493.4,534.6 L493.9,533.6 L494.5,532.7 L495.2,531.9 L496.0,531.3" stroke-width="0.7" stroke-dasharray="2 4"/>
<path class="l" d="M491.1,533.9 L492.2,533.6 L493.4,533.5 L494.5,533.7 L495.7,534.0 L496.9,534.5 L498.1,535.3 L499.2,536.2 L500.3,537.2 L501.3,538.4 L502.1,539.8 L502.9,541.2 L503.5,542.7 L504.0,544.3 L504.4,545.9 L504.5,547.5 L504.6,549.0 L504.5,550.5 L504.2,551.9 L503.7,553.2 L503.2,554.4 L502.5,555.4 L501.6,556.3 L500.7,557.0 L499.7,557.5" stroke-width="1.4"/>
<path class="t" d="M496.7,558.6 L495.7,558.6 L494.6,558.5 L493.6,558.2 L492.5,557.7 L491.4,557.1 L490.4,556.3 L489.5,555.4 L488.6,554.4 L487.7,553.3 L487.0,552.1 L486.3,550.8 L485.8,549.4 L485.3,548.1 L485.0,546.6 L484.8,545.2 L484.7,543.8 L484.8,542.5 L484.9,541.2 L485.2,539.9 L485.6,538.8 L486.1,537.8 L486.7,536.8 L487.5,536.0 L488.3,535.4" stroke-width="0.7" stroke-dasharray="2 4"/>
<path class="l" d="M484.0,537.7 L485.1,537.4 L486.3,537.3 L487.5,537.4 L488.7,537.8 L490.0,538.3 L491.2,539.1 L492.3,540.0 L493.4,541.1 L494.4,542.3 L495.3,543.7 L496.0,545.1 L496.7,546.7 L497.2,548.3 L497.5,549.9 L497.7,551.5 L497.8,553.1 L497.6,554.6 L497.3,556.1 L496.9,557.4 L496.3,558.6 L495.6,559.7 L494.8,560.5 L493.8,561.2 L492.8,561.7" stroke-width="1.4"/>
<ellipse class="l" cx="488.4" cy="549.7" rx="8.8" ry="12.8" transform="rotate(-20 488.4 549.7)" />
<path class="t" d="M490.1,558.7 L489.4,558.3 L488.7,557.9 L488.1,557.4 L487.4,556.9 L486.8,556.2 L486.2,555.5 L485.7,554.8 L485.2,554.0 L484.7,553.1 L484.3,552.2 L483.9,551.3 L483.6,550.4 L483.3,549.4 L483.1,548.4 L483.0,547.5 L482.9,546.6 L482.9,545.6 L483.0,544.8 L483.1,543.9 L483.3,543.1 L483.5,542.4 L483.8,541.7 L484.1,541.0 L484.5,540.5" />
</g>
<g transform="translate(795,869) rotate(-29)">
<path class="f" d="M14,-9.8 L58,-9.8 A4.9,9.8 0 0 1 58,9.8 L14,9.8 Z" />
<path class="t" d="M14.7,-9.8 L15.3,-9.7 L15.9,-9.4 L16.5,-9.0 L17.0,-8.4 L17.6,-7.7 L18.0,-6.8 L18.4,-5.9 L18.8,-4.8 L19.0,-3.7 L19.2,-2.5 L19.4,-1.3 L19.4,0.0 L19.4,1.3 L19.2,2.5 L19.0,3.7 L18.8,4.8 L18.4,5.9 L18.0,6.8 L17.6,7.7 L17.0,8.4 L16.5,9.0 L15.9,9.4 L15.3,9.7 L14.7,9.8" />
<path class="t" d="M18.4,-9.8 L19.0,-9.7 L19.6,-9.4 L20.2,-9.0 L20.7,-8.4 L21.3,-7.7 L21.7,-6.8 L22.1,-5.9 L22.5,-4.8 L22.7,-3.7 L22.9,-2.5 L23.1,-1.3 L23.1,0.0 L23.1,1.3 L22.9,2.5 L22.7,3.7 L22.5,4.8 L22.1,5.9 L21.7,6.8 L21.3,7.7 L20.7,8.4 L20.2,9.0 L19.6,9.4 L19.0,9.7 L18.4,9.8" />
<path class="t" d="M22.1,-9.8 L22.7,-9.7 L23.3,-9.4 L23.9,-9.0 L24.4,-8.4 L25.0,-7.7 L25.4,-6.8 L25.8,-5.9 L26.2,-4.8 L26.4,-3.7 L26.6,-2.5 L26.8,-1.3 L26.8,0.0 L26.8,1.3 L26.6,2.5 L26.4,3.7 L26.2,4.8 L25.8,5.9 L25.4,6.8 L25.0,7.7 L24.4,8.4 L23.9,9.0 L23.3,9.4 L22.7,9.7 L22.1,9.8" />
<path class="t" d="M25.8,-9.8 L26.4,-9.7 L27.0,-9.4 L27.6,-9.0 L28.1,-8.4 L28.7,-7.7 L29.1,-6.8 L29.5,-5.9 L29.9,-4.8 L30.1,-3.7 L30.3,-2.5 L30.5,-1.3 L30.5,0.0 L30.5,1.3 L30.3,2.5 L30.1,3.7 L29.9,4.8 L29.5,5.9 L29.1,6.8 L28.7,7.7 L28.1,8.4 L27.6,9.0 L27.0,9.4 L26.4,9.7 L25.8,9.8" />
<path class="t" d="M29.5,-9.8 L30.1,-9.7 L30.7,-9.4 L31.3,-9.0 L31.8,-8.4 L32.4,-7.7 L32.8,-6.8 L33.2,-5.9 L33.6,-4.8 L33.8,-3.7 L34.0,-2.5 L34.2,-1.3 L34.2,0.0 L34.2,1.3 L34.0,2.5 L33.8,3.7 L33.6,4.8 L33.2,5.9 L32.8,6.8 L32.4,7.7 L31.8,8.4 L31.3,9.0 L30.7,9.4 L30.1,9.7 L29.5,9.8" />
<path class="t" d="M33.2,-9.8 L33.8,-9.7 L34.4,-9.4 L35.0,-9.0 L35.5,-8.4 L36.1,-7.7 L36.5,-6.8 L36.9,-5.9 L37.3,-4.8 L37.5,-3.7 L37.7,-2.5 L37.9,-1.3 L37.9,0.0 L37.9,1.3 L37.7,2.5 L37.5,3.7 L37.3,4.8 L36.9,5.9 L36.5,6.8 L36.1,7.7 L35.5,8.4 L35.0,9.0 L34.4,9.4 L33.8,9.7 L33.2,9.8" />
<path class="t" d="M36.9,-9.8 L37.5,-9.7 L38.1,-9.4 L38.7,-9.0 L39.2,-8.4 L39.8,-7.7 L40.2,-6.8 L40.6,-5.9 L41.0,-4.8 L41.2,-3.7 L41.4,-2.5 L41.6,-1.3 L41.6,0.0 L41.6,1.3 L41.4,2.5 L41.2,3.7 L41.0,4.8 L40.6,5.9 L40.2,6.8 L39.8,7.7 L39.2,8.4 L38.7,9.0 L38.1,9.4 L37.5,9.7 L36.9,9.8" />
<path class="t" d="M40.6,-9.8 L41.2,-9.7 L41.8,-9.4 L42.4,-9.0 L42.9,-8.4 L43.5,-7.7 L43.9,-6.8 L44.3,-5.9 L44.7,-4.8 L44.9,-3.7 L45.1,-2.5 L45.3,-1.3 L45.3,0.0 L45.3,1.3 L45.1,2.5 L44.9,3.7 L44.7,4.8 L44.3,5.9 L43.9,6.8 L43.5,7.7 L42.9,8.4 L42.4,9.0 L41.8,9.4 L41.2,9.7 L40.6,9.8" />
<path class="t" d="M44.3,-9.8 L44.9,-9.7 L45.5,-9.4 L46.1,-9.0 L46.6,-8.4 L47.2,-7.7 L47.6,-6.8 L48.0,-5.9 L48.4,-4.8 L48.6,-3.7 L48.8,-2.5 L49.0,-1.3 L49.0,0.0 L49.0,1.3 L48.8,2.5 L48.6,3.7 L48.4,4.8 L48.0,5.9 L47.6,6.8 L47.2,7.7 L46.6,8.4 L46.1,9.0 L45.5,9.4 L44.9,9.7 L44.3,9.8" />
<path class="t" d="M48.0,-9.8 L48.6,-9.7 L49.2,-9.4 L49.8,-9.0 L50.3,-8.4 L50.9,-7.7 L51.3,-6.8 L51.7,-5.9 L52.1,-4.8 L52.3,-3.7 L52.5,-2.5 L52.7,-1.3 L52.7,0.0 L52.7,1.3 L52.5,2.5 L52.3,3.7 L52.1,4.8 L51.7,5.9 L51.3,6.8 L50.9,7.7 L50.3,8.4 L49.8,9.0 L49.2,9.4 L48.6,9.7 L48.0,9.8" />
<path class="t" d="M51.7,-9.8 L52.3,-9.7 L52.9,-9.4 L53.5,-9.0 L54.0,-8.4 L54.6,-7.7 L55.0,-6.8 L55.4,-5.9 L55.8,-4.8 L56.0,-3.7 L56.2,-2.5 L56.4,-1.3 L56.4,0.0 L56.4,1.3 L56.2,2.5 L56.0,3.7 L55.8,4.8 L55.4,5.9 L55.0,6.8 L54.6,7.7 L54.0,8.4 L53.5,9.0 L52.9,9.4 L52.3,9.7 L51.7,9.8" />
<path class="t" d="M55.4,-9.8 L56.0,-9.7 L56.6,-9.4 L57.2,-9.0 L57.7,-8.4 L58.3,-7.7 L58.7,-6.8 L59.1,-5.9 L59.5,-4.8 L59.7,-3.7 L59.9,-2.5 L60.1,-1.3 L60.1,0.0 L60.1,1.3 L59.9,2.5 L59.7,3.7 L59.5,4.8 L59.1,5.9 L58.7,6.8 L58.3,7.7 L57.7,8.4 L57.2,9.0 L56.6,9.4 L56.0,9.7 L55.4,9.8" />
<path class="l" d="M58.0,-9.8 L58.6,-9.7 L59.3,-9.5 L59.9,-9.1 L60.5,-8.5 L61.0,-7.8 L61.5,-6.9 L61.9,-6.0 L62.2,-4.9 L62.5,-3.8 L62.7,-2.5 L62.9,-1.3 L62.9,0.0 L62.9,1.3 L62.7,2.5 L62.5,3.8 L62.2,4.9 L61.9,6.0 L61.5,6.9 L61.0,7.8 L60.5,8.5 L59.9,9.1 L59.3,9.5 L58.6,9.7 L58.0,9.8" />
<path class="f" d="M0,-6.5 L15,-6.5 L15,6.5 L0,6.5 Z" />
<ellipse class="t" cx="6.0" cy="1.0" rx="1.5" ry="2.5" transform="rotate(0 6.0 1.0)" />
<path class="f" d="M0,-17.5 L-3,-17.5 A8.7,17.5 0 0 0 -3,17.5 L0,17.5 A8.7,17.5 0 0 0 0,-17.5 Z" />
<ellipse class="f" cx="-3.0" cy="0.0" rx="8.7" ry="17.5" transform="rotate(0 -3.0 0.0)" />
<path class="f" d="M-3,-14.5 L-14,-14.5 A8.5,14.5 0 0 0 -14,14.5 L-3,14.5 Z" />
<ellipse class="f" cx="-14.0" cy="0.0" rx="8.5" ry="14.5" transform="rotate(0 -14.0 0.0)" />
<path class="t" d="M-14,-7 L-4,-7 M-14,7 L-4,7" />
</g>
<g id="w14">
<ellipse class="f" cx="864.0" cy="829.4" rx="13.5" ry="17.0" transform="rotate(-20 864.0 829.4)" />
<path class="t" d="M865.0,815.2 L866.0,815.6 L867.0,816.1 L868.0,816.7 L869.0,817.3 L869.9,818.1 L870.8,818.9 L871.6,819.9 L872.4,820.9 L873.1,822.0 L873.8,823.1 L874.3,824.3 L874.8,825.5 L875.2,826.7 L875.5,828.0 L875.8,829.2 L875.9,830.5 L876.0,831.8 L875.9,833.0 L875.8,834.3 L875.6,835.4 L875.3,836.6 L874.9,837.7 L874.4,838.7 L873.8,839.6" />
<ellipse class="t" cx="862.4" cy="829.7" rx="6.5" ry="10.5" transform="rotate(-20 862.4 829.7)" />
<ellipse class="f" cx="944.3" cy="785.0" rx="13.5" ry="16.0" transform="rotate(-22 944.3 785.0)" />
<path class="t" d="M945.1,771.6 L946.1,771.9 L947.1,772.3 L948.1,772.8 L949.1,773.4 L950.0,774.0 L950.9,774.8 L951.7,775.6 L952.5,776.5 L953.2,777.5 L953.9,778.5 L954.5,779.6 L955.0,780.7 L955.4,781.8 L955.7,783.0 L956.0,784.2 L956.1,785.4 L956.2,786.6 L956.2,787.8 L956.0,788.9 L955.8,790.0 L955.5,791.1 L955.2,792.2 L954.7,793.2 L954.2,794.1" />
<ellipse class="t" cx="943.0" cy="785.0" rx="6.5" ry="10.0" transform="rotate(-22 943.0 785.0)" />
</g>
<path class="t" d="M927,792 L945.7,782.8" />
<g id="banjo">
<path class="l" d="M902.4,818 L901,837.3 Q898,848 891,856.3 M916.3,816 L916.3,836 Q913,852 902.4,864" />
<g transform="translate(903.0,806.2) rotate(-28.0)">
<path class="f" d="M0,-15.5 L17,-15.5 A11.6,15.5 0 0 1 17,15.5 L0,15.5 Z" />
<ellipse class="f" cx="0.0" cy="0.0" rx="11.6" ry="15.5" transform="rotate(0 0.0 0.0)" />
</g>
<path class="t" d="M907.5,801.5 L908.4,803.1 L909.1,804.8 L909.6,806.6 L909.7,808.4 L909.6,810.1 L909.2,811.8 L908.6,813.2 L907.7,814.4 L906.6,815.3 L905.4,815.8 L904.0,816.0 L902.6,815.9 L901.1,815.4 L899.7,814.6 L898.5,813.5 L897.3,812.1 L896.4,810.5 L895.7,808.8 L895.2,807.0 L895.1,805.2 L895.2,803.5 L895.6,801.8 L896.2,800.4 L897.1,799.2" />
</g>
<g id="hoseR">
<path class="l" d="M863,891.9 L846.5,918.5 M882,903.3 L865.5,930" />
<g transform="translate(894.4,864.0) rotate(122.8)">
<path class="f" d="M39,-14.8 L0,-14.8 A4.7,14.8 0 0 0 0,14.8 L39,14.8 Z" />
<ellipse class="f" cx="39.0" cy="0.0" rx="4.7" ry="14.8" transform="rotate(0 39.0 0.0)" />
</g>
<path class="t" d="M882.0,856.0 L882.4,855.5 L883.0,855.2 L883.9,855.1 L884.9,855.1 L886.1,855.2 L887.4,855.5 L888.8,856.0 L890.4,856.6 L892.0,857.3 L893.6,858.1 L895.3,859.0 L896.9,860.0 L898.5,861.1 L900.1,862.3 L901.5,863.4 L902.8,864.6 L904.0,865.7 L905.0,866.9 L905.8,868.0 L906.4,869.0 L906.9,869.9 L907.1,870.7 L907.1,871.4 L906.8,872.0" />
<path class="f" d="M746.4,1117.4 C740,1132 726,1143 706,1147.8 L631,1163 Q620,1168 626,1175 L636,1180 Q626,1186 636,1195.7 L731,1176 C752,1168 768,1150 778.6,1127" />
<g transform="translate(773,1084) rotate(104)">
<path class="f" d="M0,-27 Q14,-30.5 28,-27 A13,27 0 0 1 28,27 Q14,30.5 0,27 Z" />
<ellipse class="f" cx="0.0" cy="0.0" rx="13.0" ry="27.0" transform="rotate(0 0.0 0.0)" />
<path class="l" d="M14.8,-28.2 L16.3,-27.6 L17.8,-26.5 L19.2,-25.0 L20.5,-23.3 L21.7,-21.1 L22.8,-18.7 L23.8,-16.0 L24.5,-13.1 L25.2,-10.0 L25.6,-6.7 L25.9,-3.4 L26.0,0.0 L25.9,3.4 L25.6,6.7 L25.2,10.0 L24.5,13.1 L23.8,16.0 L22.8,18.7 L21.7,21.1 L20.5,23.3 L19.2,25.0 L17.8,26.5 L16.3,27.6 L14.8,28.2" />
<path class="t" d="M18.2,-27.9 L19.6,-27.0 L21.0,-25.8 L22.3,-24.3 L23.5,-22.5 L24.6,-20.3 L25.6,-17.9 L26.5,-15.3 L27.2,-12.5 L27.8,-9.5 L28.2,-6.4 L28.4,-3.2 L28.5,0.0 L28.4,3.2 L28.2,6.4 L27.8,9.5 L27.2,12.5 L26.5,15.3 L25.6,17.9 L24.6,20.3 L23.5,22.5 L22.3,24.3 L21.0,25.8 L19.6,27.0 L18.2,27.9" />
<path class="t" d="M2,-27.5 Q5,-29 8,-29 M2,27.5 Q5,29 8,29 M18,-29.5 L24,-29 M18,29.5 L24,29" />
</g>
<path class="f" d="M840.2,917.9 C820,948 805,975 790,1000 C776,1025 766,1050 759,1082 C757,1092 765,1101 778.6,1099.3 C785,1098 790,1095 790.3,1093 C797,1060 806,1040 818,1018 C832,994 850,965 866.8,935 Q858,922 840.2,917.9 Z" />
</g>
<g id="hose15">
<path class="f" d="M424.4,1202.8 L614.4,1165.9 Q625,1168 622.2,1175 Q620,1180 612.5,1181 Q626,1184 625.2,1191 Q624,1197 620.3,1198.6 L426,1234 Q416,1230 416,1218 Q417,1205 424.4,1202.8 Z" />
<path class="t" d="M614.4,1165.9 Q604,1166 606,1171" />
<path class="t" d="M631,1163 Q620,1168 626,1175 Q630,1180 638.8,1180" />
<path class="t" d="M629,1185 Q626,1195 636,1195.7" />
<path class="l" d="M390,1215.3 L417.3,1209.8 M393,1235.6 L419.7,1231.7" />
<path class="l" d="M390,1215.3 Q382,1225 393,1235.6" />
<path class="f" d="M377.5,1202.8 L399.4,1193.4 L402.5,1195 L409.5,1209.8 L390,1215.3 Q382,1225 393,1235.6 L419.7,1234 L386.9,1250.5 Q372,1245 369.7,1229.4 Q370,1212 377.5,1202.8 Z" />
<path class="t" d="M380,1240 Q373,1220 382,1208" />
<path class="f" d="M349.4,1209 L369.7,1198.9 L372.8,1204.4 L377.5,1202.8 Q370,1212 369.7,1229.4 Q372,1245 386.9,1250.5 L380.6,1248 L360.3,1256 Q342,1250 337,1232 Q336,1217 349.4,1209 Z" />
<path class="t" d="M350,1240 Q343,1225 352,1212 M357,1250 Q365,1254 372,1252" />
<path class="t" d="M352,1228 Q352,1216 362,1208" />
<path class="l" d="M316.5,1228.4 L338,1225.3 M323.5,1250.5 L339,1247.5" />
</g>
<g id="hoseL">
<path class="f" d="M203,1318 L196,1336.6 L210,1349.8 L217.1,1346.2 L224.2,1325.2 Z" />
<path class="f" d="M311,1224 L300,1226.9 C280,1230 262,1235 245,1250 C225,1265 208,1285 200.4,1310 C198,1320 210,1326 220.6,1325.2 C228,1324 232,1321 233,1318 C236,1298 245,1285 262.4,1267 C275,1262 290,1259 322,1254 Q330,1240 311,1224 Z" />
<path class="t" d="M310,1226.5 Q302,1240 312,1252" />
<path class="f" d="M198.7,1328.7 Q192,1330 189.9,1339.2 L180.7,1363 Q180,1378 196.9,1380.5 Q209,1381 212.7,1372.6 L221.5,1349.8 Q225,1340 222.4,1341.9 Q215,1333 198.7,1328.7 Z" />
<path class="l" d="M196,1336.6 Q196,1349 210,1349.8 Q216,1349 217.1,1346.2" />
<path class="t" d="M189.9,1339.2 Q190,1345 193,1346 M215,1352 Q220,1351 221.5,1349.8" />
<path class="f" d="M186.4,1377.9 L181.1,1390.2 Q182,1398 188.1,1398.1 Q194,1397 195.2,1393.7 L198.7,1381.4 Z" />
<path class="f" d="M181.1,1388.4 L166.2,1406 Q165,1409 167,1410.4 L177.6,1421 Q182,1422 186.4,1419.2 L201.3,1401.6 Q203,1398 200.4,1396.3 L195.2,1392" />
<path class="l" d="M181.1,1390.2 Q182,1398 188.1,1398.1 Q194,1397 195.2,1393.7" />
<ellipse class="l" cx="189.5" cy="1408.0" rx="14.5" ry="7.5" transform="rotate(-48 189.5 1408.0)" />
<path class="t" d="M192.4,1410.4 L191.5,1411.5 L190.5,1412.4 L189.6,1413.2 L188.6,1414.0 L187.6,1414.5 L186.7,1415.0 L185.8,1415.2 L185.1,1415.3 L184.4,1415.2 L183.8,1415.0 L183.4,1414.6 L183.2,1414.0 L183.0,1413.3 L183.1,1412.5 L183.2,1411.6 L183.6,1410.6 L184.0,1409.5 L184.6,1408.4 L185.3,1407.3 L186.1,1406.2 L187.0,1405.1 L187.9,1404.1 L188.9,1403.2 L189.9,1402.4" />
</g>
<g id="w14b">
<ellipse class="f" cx="148.9" cy="1368.5" rx="16.5" ry="9.5" transform="rotate(-40 148.9 1368.5)" />
<path class="t" d="M142.0,1379.2 L141.4,1379.1 L140.8,1379.0 L140.3,1378.9 L139.8,1378.7 L139.3,1378.4 L138.9,1378.2 L138.5,1377.9 L138.2,1377.5 L137.9,1377.1 L137.6,1376.7 L137.4,1376.2 L137.3,1375.7 L137.2,1375.2 L137.1,1374.6 L137.1,1374.0 L137.2,1373.4 L137.3,1372.8 L137.5,1372.1 L137.7,1371.5 L137.9,1370.8 L138.2,1370.1 L138.5,1369.4 L138.9,1368.7 L139.4,1368.0" />
<ellipse class="t" cx="149.5" cy="1368.5" rx="7.5" ry="3.0" transform="rotate(-48 149.5 1368.5)" />
<ellipse class="f" cx="210.0" cy="1428.3" rx="16.5" ry="9.5" transform="rotate(-40 210.0 1428.3)" />
<path class="t" d="M203.1,1439.0 L202.5,1438.9 L201.9,1438.8 L201.4,1438.7 L200.9,1438.5 L200.4,1438.2 L200.0,1438.0 L199.6,1437.7 L199.3,1437.3 L199.0,1436.9 L198.7,1436.5 L198.5,1436.0 L198.4,1435.5 L198.3,1435.0 L198.2,1434.4 L198.2,1433.8 L198.3,1433.2 L198.4,1432.6 L198.6,1431.9 L198.8,1431.3 L199.0,1430.6 L199.3,1429.9 L199.6,1429.2 L200.0,1428.5 L200.5,1427.8" />
<ellipse class="t" cx="210.5" cy="1428.3" rx="7.5" ry="3.0" transform="rotate(-48 210.5 1428.3)" />
</g>
<g transform="translate(86.0,1308.5) rotate(43.9)">
<path class="f" d="M-3,-13.5 L-11,-13.5 A6.8,13.5 0 0 0 -11,13.5 L-3,13.5 Z" />
<path class="t" d="M-16.7,-6.8 L-3,-6.8 M-16.7,6.8 L-3,6.8" />
<path class="f" d="M0,-16.5 L-3,-16.5 A8.2,16.5 0 0 0 -3,16.5 L0,16.5 Z" />
<ellipse class="f" cx="0.0" cy="0.0" rx="8.2" ry="16.5" transform="rotate(0 0.0 0.0)" />
<path class="f" d="M0,-7.5 L19,-7.5 L19,7.5 L0,7.5 Z" />
<path class="t" d="M0.0,7.5 L-0.5,7.4 L-1.0,7.2 L-1.4,6.9 L-1.9,6.5 L-2.3,6.0 L-2.7,5.3 L-3.0,4.6 L-3.2,3.7 L-3.5,2.9 L-3.6,1.9 L-3.7,1.0 L-3.8,0.0 L-3.7,-1.0 L-3.6,-1.9 L-3.5,-2.9 L-3.2,-3.8 L-3.0,-4.6 L-2.7,-5.3 L-2.3,-6.0 L-1.9,-6.5 L-1.4,-6.9 L-1.0,-7.2 L-0.5,-7.4 L-0.0,-7.5" />
<path class="f" d="M17,-10.3 L62,-10.3 A5.2,10.3 0 0 1 62,10.3 L17,10.3 A5.2,10.3 0 0 1 17,-10.3 Z" />
<path class="t" d="M18.4,10.3 L17.7,10.2 L17.1,9.9 L16.5,9.4 L15.9,8.8 L15.3,8.0 L14.8,7.2 L14.4,6.2 L14.1,5.0 L13.8,3.9 L13.6,2.6 L13.4,1.3 L13.4,0.0 L13.4,-1.3 L13.6,-2.6 L13.8,-3.9 L14.1,-5.0 L14.4,-6.2 L14.8,-7.2 L15.3,-8.0 L15.9,-8.8 L16.5,-9.4 L17.1,-9.9 L17.7,-10.2 L18.4,-10.3" />
<path class="t" d="M22.6,10.3 L21.9,10.2 L21.3,9.9 L20.6,9.4 L20.1,8.8 L19.5,8.0 L19.0,7.2 L18.6,6.2 L18.2,5.0 L18.0,3.9 L17.8,2.6 L17.6,1.3 L17.6,0.0 L17.6,-1.3 L17.8,-2.6 L18.0,-3.9 L18.2,-5.0 L18.6,-6.2 L19.0,-7.2 L19.5,-8.0 L20.1,-8.8 L20.6,-9.4 L21.3,-9.9 L21.9,-10.2 L22.6,-10.3" />
<path class="t" d="M26.7,10.3 L26.1,10.2 L25.4,9.9 L24.8,9.4 L24.2,8.8 L23.7,8.0 L23.2,7.2 L22.8,6.2 L22.4,5.0 L22.2,3.9 L21.9,2.6 L21.8,1.3 L21.8,0.0 L21.8,-1.3 L21.9,-2.6 L22.2,-3.9 L22.4,-5.0 L22.8,-6.2 L23.2,-7.2 L23.7,-8.0 L24.2,-8.8 L24.8,-9.4 L25.4,-9.9 L26.1,-10.2 L26.7,-10.3" />
<path class="t" d="M30.9,10.3 L30.3,10.2 L29.6,9.9 L29.0,9.4 L28.4,8.8 L27.9,8.0 L27.4,7.2 L27.0,6.2 L26.6,5.0 L26.3,3.9 L26.1,2.6 L26.0,1.3 L26.0,0.0 L26.0,-1.3 L26.1,-2.6 L26.3,-3.9 L26.6,-5.0 L27.0,-6.2 L27.4,-7.2 L27.9,-8.0 L28.4,-8.8 L29.0,-9.4 L29.6,-9.9 L30.3,-10.2 L30.9,-10.3" />
<path class="t" d="M35.1,10.3 L34.5,10.2 L33.8,9.9 L33.2,9.4 L32.6,8.8 L32.1,8.0 L31.6,7.2 L31.2,6.2 L30.8,5.0 L30.5,3.9 L30.3,2.6 L30.2,1.3 L30.2,0.0 L30.2,-1.3 L30.3,-2.6 L30.5,-3.9 L30.8,-5.0 L31.2,-6.2 L31.6,-7.2 L32.1,-8.0 L32.6,-8.8 L33.2,-9.4 L33.8,-9.9 L34.5,-10.2 L35.1,-10.3" />
<path class="t" d="M39.3,10.3 L38.7,10.2 L38.0,9.9 L37.4,9.4 L36.8,8.8 L36.3,8.0 L35.8,7.2 L35.4,6.2 L35.0,5.0 L34.7,3.9 L34.5,2.6 L34.4,1.3 L34.4,0.0 L34.4,-1.3 L34.5,-2.6 L34.7,-3.9 L35.0,-5.0 L35.4,-6.2 L35.8,-7.2 L36.3,-8.0 L36.8,-8.8 L37.4,-9.4 L38.0,-9.9 L38.7,-10.2 L39.3,-10.3" />
<path class="t" d="M43.5,10.3 L42.9,10.2 L42.2,9.9 L41.6,9.4 L41.0,8.8 L40.5,8.0 L40.0,7.2 L39.6,6.2 L39.2,5.0 L38.9,3.9 L38.7,2.6 L38.6,1.3 L38.5,0.0 L38.6,-1.3 L38.7,-2.6 L38.9,-3.9 L39.2,-5.0 L39.6,-6.2 L40.0,-7.2 L40.5,-8.0 L41.0,-8.8 L41.6,-9.4 L42.2,-9.9 L42.9,-10.2 L43.5,-10.3" />
<path class="t" d="M47.7,10.3 L47.0,10.2 L46.4,9.9 L45.8,9.4 L45.2,8.8 L44.7,8.0 L44.2,7.2 L43.8,6.2 L43.4,5.0 L43.1,3.9 L42.9,2.6 L42.8,1.3 L42.7,0.0 L42.8,-1.3 L42.9,-2.6 L43.1,-3.9 L43.4,-5.0 L43.8,-6.2 L44.2,-7.2 L44.7,-8.0 L45.2,-8.8 L45.8,-9.4 L46.4,-9.9 L47.0,-10.2 L47.7,-10.3" />
<path class="t" d="M51.9,10.3 L51.2,10.2 L50.6,9.9 L50.0,9.4 L49.4,8.8 L48.9,8.0 L48.4,7.2 L47.9,6.2 L47.6,5.0 L47.3,3.9 L47.1,2.6 L47.0,1.3 L46.9,0.0 L47.0,-1.3 L47.1,-2.6 L47.3,-3.9 L47.6,-5.0 L47.9,-6.2 L48.4,-7.2 L48.9,-8.0 L49.4,-8.8 L50.0,-9.4 L50.6,-9.9 L51.2,-10.2 L51.9,-10.3" />
<path class="t" d="M56.1,10.3 L55.4,10.2 L54.8,9.9 L54.2,9.4 L53.6,8.8 L53.0,8.0 L52.6,7.2 L52.1,6.2 L51.8,5.0 L51.5,3.9 L51.3,2.6 L51.2,1.3 L51.1,0.0 L51.2,-1.3 L51.3,-2.6 L51.5,-3.9 L51.8,-5.0 L52.1,-6.2 L52.6,-7.2 L53.0,-8.0 L53.6,-8.8 L54.2,-9.4 L54.8,-9.9 L55.4,-10.2 L56.1,-10.3" />
<path class="t" d="M60.3,10.3 L59.6,10.2 L59.0,9.9 L58.4,9.4 L57.8,8.8 L57.2,8.0 L56.8,7.2 L56.3,6.2 L56.0,5.0 L55.7,3.9 L55.5,2.6 L55.3,1.3 L55.3,0.0 L55.3,-1.3 L55.5,-2.6 L55.7,-3.9 L56.0,-5.0 L56.3,-6.2 L56.8,-7.2 L57.2,-8.0 L57.8,-8.8 L58.4,-9.4 L59.0,-9.9 L59.6,-10.2 L60.3,-10.3" />
<ellipse class="l" cx="62.0" cy="0.0" rx="5.2" ry="10.3" transform="rotate(0 62.0 0.0)" />
</g>
<g transform="translate(889.0,1052.0) rotate(150.0)">
<path class="f" d="M-3,-15 L-12,-15 A8.2,15 0 0 0 -12,15 L-3,15 Z" />
<path class="t" d="M-19.0,-7.5 L-3,-7.5 M-19.0,7.5 L-3,7.5" />
<path class="f" d="M0,-18 L-3,-18 A9.9,18 0 0 0 -3,18 L0,18 Z" />
<ellipse class="f" cx="0.0" cy="0.0" rx="9.9" ry="18.0" transform="rotate(0 0.0 0.0)" />
<path class="f" d="M0,-8 L33,-8 A4.4,8 0 0 1 33,8 L0,8 A4.4,8 0 0 1 0,-8 Z" />
<path class="t" d="M0.0,8.0 L-0.6,7.9 L-1.1,7.7 L-1.7,7.4 L-2.2,6.9 L-2.7,6.3 L-3.1,5.7 L-3.5,4.9 L-3.8,4.0 L-4.1,3.1 L-4.3,2.1 L-4.4,1.0 L-4.4,0.0 L-4.4,-1.0 L-4.3,-2.1 L-4.1,-3.1 L-3.8,-4.0 L-3.5,-4.9 L-3.1,-5.7 L-2.7,-6.3 L-2.2,-6.9 L-1.7,-7.4 L-1.1,-7.7 L-0.6,-7.9 L-0.0,-8.0" />
<path class="t" d="M13.2,8.0 L12.6,7.9 L12.1,7.7 L11.5,7.3 L11.0,6.8 L10.6,6.2 L10.2,5.6 L9.8,4.8 L9.5,3.9 L9.2,3.0 L9.1,2.0 L9.0,1.0 L8.9,0.0 L9.0,-1.0 L9.1,-2.0 L9.2,-3.0 L9.5,-3.9 L9.8,-4.8 L10.2,-5.6 L10.6,-6.2 L11.0,-6.8 L11.5,-7.3 L12.1,-7.7 L12.6,-7.9 L13.2,-8.0" />
<path class="t" d="M16.8,8.0 L16.3,7.9 L15.7,7.7 L15.2,7.3 L14.7,6.8 L14.2,6.2 L13.8,5.6 L13.5,4.8 L13.2,3.9 L12.9,3.0 L12.7,2.0 L12.6,1.0 L12.6,0.0 L12.6,-1.0 L12.7,-2.0 L12.9,-3.0 L13.2,-3.9 L13.5,-4.8 L13.8,-5.6 L14.2,-6.2 L14.7,-6.8 L15.2,-7.3 L15.7,-7.7 L16.3,-7.9 L16.8,-8.0" />
<path class="t" d="M20.5,8.0 L20.0,7.9 L19.4,7.7 L18.9,7.3 L18.4,6.8 L17.9,6.2 L17.5,5.6 L17.1,4.8 L16.8,3.9 L16.6,3.0 L16.4,2.0 L16.3,1.0 L16.3,0.0 L16.3,-1.0 L16.4,-2.0 L16.6,-3.0 L16.8,-3.9 L17.1,-4.8 L17.5,-5.6 L17.9,-6.2 L18.4,-6.8 L18.9,-7.3 L19.4,-7.7 L20.0,-7.9 L20.5,-8.0" />
<path class="t" d="M24.2,8.0 L23.6,7.9 L23.1,7.7 L22.5,7.3 L22.0,6.8 L21.6,6.2 L21.2,5.6 L20.8,4.8 L20.5,3.9 L20.3,3.0 L20.1,2.0 L20.0,1.0 L19.9,0.0 L20.0,-1.0 L20.1,-2.0 L20.3,-3.0 L20.5,-3.9 L20.8,-4.8 L21.2,-5.6 L21.6,-6.2 L22.0,-6.8 L22.5,-7.3 L23.1,-7.7 L23.6,-7.9 L24.2,-8.0" />
<path class="t" d="M27.9,8.0 L27.3,7.9 L26.7,7.7 L26.2,7.3 L25.7,6.8 L25.3,6.2 L24.8,5.6 L24.5,4.8 L24.2,3.9 L23.9,3.0 L23.8,2.0 L23.6,1.0 L23.6,0.0 L23.6,-1.0 L23.8,-2.0 L23.9,-3.0 L24.2,-3.9 L24.5,-4.8 L24.8,-5.6 L25.3,-6.2 L25.7,-6.8 L26.2,-7.3 L26.7,-7.7 L27.3,-7.9 L27.9,-8.0" />
<path class="t" d="M31.5,8.0 L31.0,7.9 L30.4,7.7 L29.9,7.3 L29.4,6.8 L28.9,6.2 L28.5,5.6 L28.2,4.8 L27.8,3.9 L27.6,3.0 L27.4,2.0 L27.3,1.0 L27.3,0.0 L27.3,-1.0 L27.4,-2.0 L27.6,-3.0 L27.8,-3.9 L28.2,-4.8 L28.5,-5.6 L28.9,-6.2 L29.4,-6.8 L29.9,-7.3 L30.4,-7.7 L31.0,-7.9 L31.5,-8.0" />
<ellipse class="l" cx="33.0" cy="0.0" rx="4.4" ry="8.0" transform="rotate(0 33.0 0.0)" />
</g>
<g transform="translate(477.0,1124.0) rotate(149.7)">
<path class="f" d="M-3,-15 L-12,-15 A8.2,15 0 0 0 -12,15 L-3,15 Z" />
<path class="t" d="M-19.0,-7.5 L-3,-7.5 M-19.0,7.5 L-3,7.5" />
<path class="f" d="M0,-18 L-3,-18 A9.9,18 0 0 0 -3,18 L0,18 Z" />
<ellipse class="f" cx="0.0" cy="0.0" rx="9.9" ry="18.0" transform="rotate(0 0.0 0.0)" />
<path class="f" d="M0,-7.8 L31,-7.8 A4.3,7.8 0 0 1 31,7.8 L0,7.8 A4.3,7.8 0 0 1 0,-7.8 Z" />
<path class="t" d="M0.0,7.8 L-0.6,7.7 L-1.1,7.5 L-1.6,7.2 L-2.1,6.8 L-2.6,6.2 L-3.0,5.5 L-3.4,4.7 L-3.7,3.9 L-4.0,3.0 L-4.1,2.0 L-4.3,1.0 L-4.3,0.0 L-4.3,-1.0 L-4.1,-2.0 L-4.0,-3.0 L-3.7,-3.9 L-3.4,-4.7 L-3.0,-5.5 L-2.6,-6.2 L-2.1,-6.8 L-1.6,-7.2 L-1.1,-7.5 L-0.6,-7.7 L-0.0,-7.8" />
<path class="t" d="M13.1,7.8 L12.6,7.7 L12.1,7.5 L11.5,7.1 L11.1,6.7 L10.6,6.1 L10.2,5.4 L9.8,4.7 L9.5,3.8 L9.3,2.9 L9.1,2.0 L9.0,1.0 L9.0,0.0 L9.0,-1.0 L9.1,-2.0 L9.3,-2.9 L9.5,-3.8 L9.8,-4.7 L10.2,-5.4 L10.6,-6.1 L11.1,-6.7 L11.5,-7.1 L12.1,-7.5 L12.6,-7.7 L13.1,-7.8" />
<path class="t" d="M17.2,7.8 L16.7,7.7 L16.2,7.5 L15.6,7.1 L15.2,6.7 L14.7,6.1 L14.3,5.4 L14.0,4.7 L13.7,3.8 L13.4,2.9 L13.2,2.0 L13.1,1.0 L13.1,0.0 L13.1,-1.0 L13.2,-2.0 L13.4,-2.9 L13.7,-3.8 L14.0,-4.7 L14.3,-5.4 L14.7,-6.1 L15.2,-6.7 L15.6,-7.1 L16.2,-7.5 L16.7,-7.7 L17.2,-7.8" />
<path class="t" d="M21.4,7.8 L20.8,7.7 L20.3,7.5 L19.8,7.1 L19.3,6.7 L18.8,6.1 L18.4,5.4 L18.1,4.7 L17.8,3.8 L17.5,2.9 L17.3,2.0 L17.2,1.0 L17.2,0.0 L17.2,-1.0 L17.3,-2.0 L17.5,-2.9 L17.8,-3.8 L18.1,-4.7 L18.4,-5.4 L18.8,-6.1 L19.3,-6.7 L19.8,-7.1 L20.3,-7.5 L20.8,-7.7 L21.4,-7.8" />
<path class="t" d="M25.5,7.8 L24.9,7.7 L24.4,7.5 L23.9,7.1 L23.4,6.7 L22.9,6.1 L22.5,5.4 L22.2,4.7 L21.9,3.8 L21.6,2.9 L21.5,2.0 L21.4,1.0 L21.3,0.0 L21.4,-1.0 L21.5,-2.0 L21.6,-2.9 L21.9,-3.8 L22.2,-4.7 L22.5,-5.4 L22.9,-6.1 L23.4,-6.7 L23.9,-7.1 L24.4,-7.5 L24.9,-7.7 L25.5,-7.8" />
<path class="t" d="M29.6,7.8 L29.0,7.7 L28.5,7.5 L28.0,7.1 L27.5,6.7 L27.0,6.1 L26.6,5.4 L26.3,4.7 L26.0,3.8 L25.7,2.9 L25.6,2.0 L25.5,1.0 L25.4,0.0 L25.5,-1.0 L25.6,-2.0 L25.7,-2.9 L26.0,-3.8 L26.3,-4.7 L26.6,-5.4 L27.0,-6.1 L27.5,-6.7 L28.0,-7.1 L28.5,-7.5 L29.0,-7.7 L29.6,-7.8" />
<ellipse class="l" cx="31.0" cy="0.0" rx="4.3" ry="7.8" transform="rotate(0 31.0 0.0)" />
</g>
<g id="c17">
<path class="f" d="M331.6,1158.2 L327,1148 C322,1140 315,1127 312.5,1115.6 C311,1108 313,1101 323.7,1094.2 C330,1090 335,1088.5 339.4,1087.5 L366.4,1083 Q372,1082 375.4,1085.2 L388.8,1120 Q392,1127 403.4,1132.4 L415.8,1129 Q422,1129 428.1,1131.3 Q436,1135 439.4,1142.5 Q444,1150 443.9,1158.2 Q443,1166 440.5,1169.5 Q436,1174 429.3,1175 L422.5,1175 Q417,1172 414.7,1168.4 L411.3,1159.4 L388.8,1153.8 Q378,1150 373.1,1144.8 C368,1140 365,1136 361.9,1131.3 L349.5,1108.8 L346.2,1105.5 C346,1110 346.5,1113 347.3,1115.6 C348,1125 349,1130 350.6,1135.8 Q353,1146 357.4,1153.8 Z" />
<path class="t" d="M346.2,1105.5 Q347,1099 350.6,1096.5 L367.5,1087.5 Q370,1087 372,1088.6 M374.2,1095.4 L376.5,1101" />
<path class="t" d="M332.7,1147 L349.5,1143.6 M335,1153.8 L351.8,1150.4" />
<path class="t" d="M388.8,1121 Q390,1130 395,1134" />
<ellipse class="l" cx="427.0" cy="1153.8" rx="5.5" ry="8.5" transform="rotate(-20 427.0 1153.8)" />
<path class="t" d="M429.6,1160.1 L429.1,1160.3 L428.6,1160.3 L428.0,1160.2 L427.5,1160.0 L427.0,1159.8 L426.4,1159.4 L425.9,1159.0 L425.4,1158.4 L425.0,1157.9 L424.6,1157.2 L424.2,1156.5 L423.9,1155.8 L423.7,1155.1 L423.5,1154.3 L423.4,1153.5 L423.4,1152.8 L423.4,1152.1 L423.5,1151.4 L423.7,1150.8 L423.9,1150.3 L424.2,1149.8 L424.6,1149.4 L425.0,1149.1 L425.4,1148.9" />
</g>
<g id="clip16">
<path class="" d="M870,1112.6 Q865,1103 856.6,1104 Q847,1105 848,1112 Q849,1117 856,1121 Q870,1130 869.5,1142 Q868,1158 848,1160 Q832,1160 823.3,1149 L814,1136.5 Q811,1133.5 808.5,1137 L803.5,1149 Q803,1154 808,1154.5 L817,1154.5 Q821,1154 821,1150 M809,1133 Q804,1136 801.5,1141 L799.5,1145.5" fill="none" stroke="#111" stroke-width="5.2" stroke-linecap="round" stroke-linejoin="round"/>
<path class="" d="M870,1112.6 Q865,1103 856.6,1104 Q847,1105 848,1112 Q849,1117 856,1121 Q870,1130 869.5,1142 Q868,1158 848,1160 Q832,1160 823.3,1149 L814,1136.5 Q811,1133.5 808.5,1137 L803.5,1149 Q803,1154 808,1154.5 L817,1154.5 Q821,1154 821,1150 M809,1133 Q804,1136 801.5,1141 L799.5,1145.5" fill="none" stroke="#fff" stroke-width="2.4" stroke-linecap="round" stroke-linejoin="round"/>
</g>
<g id="fwd">
<path class="" d="M894.2,1345.9 L898.5,1343.8 L941.4,1368 L946.8,1363.6 L968.8,1399.6 L942.5,1413 L942,1403.4 L894.2,1376.5 Z" fill="#111" stroke="none"/>
<path class="" d="M897.5,1347.5 L941,1371.5 M947.5,1367.5 L967,1399" stroke="#fff" stroke-width="1.8" fill="none"/>
<text opacity="0.999" x="0" y="0" transform="translate(898.5,1375.4) skewY(29.5)" font-family="Liberation Sans,sans-serif" font-size="29" fill="#111" stroke="#fff" stroke-width="1.9" stroke-linejoin="round" textLength="46" lengthAdjust="spacingAndGlyphs">FWD</text>
</g>
<g class="n" opacity="0.999">
<text transform="translate(259.90,150.80) scale(1.07,1)">1</text>
<text transform="translate(621.00,646.40) scale(1.07,1)">2</text>
<text transform="translate(750.40,471.70) scale(1.07,1)">3</text>
<text transform="translate(793.40,429.20) scale(1.07,1)">4</text>
<text transform="translate(839.40,404.10) scale(1.07,1)">5</text>
<text transform="translate(431.50,452.20) scale(1.07,1)">6</text>
<text transform="translate(433.00,374.50) scale(1.07,1)">7</text>
<text transform="translate(435.20,294.50) scale(1.07,1)">8</text>
<text transform="translate(209.30,251.60) scale(1.07,1)">9</text>
<text transform="translate(381.80,523.50) scale(1.07,1)">10</text>
<text transform="translate(143.40,357.90) scale(1.07,1)">11</text>
<text transform="translate(69.20,361.80) scale(1.07,1)">12</text>
<text transform="translate(775.20,810.10) scale(1.07,1)">13</text>
<text transform="translate(851.20,778.00) scale(1.07,1)">14</text>
<text transform="translate(934.30,853.50) scale(1.07,1)">14</text>
<text transform="translate(833.70,1220.80) scale(1.07,1)">16</text>
<text transform="translate(316.80,1039.30) scale(1.07,1)">17</text>
<text transform="translate(474.10,1054.60) scale(1.07,1)">18</text>
<text transform="translate(884.00,989.50) scale(1.07,1)">18</text>
<text transform="translate(577.80,1280.90) scale(1.07,1)">15</text>
<text transform="translate(82.60,1235.60) scale(1.07,1)">13</text>
<text transform="translate(140.60,1294.20) scale(1.07,1)">14</text>
<text transform="translate(235.60,1369.20) scale(1.07,1)">14</text>
</g>
<text x="29" y="1540" font-family="Liberation Sans,sans-serif" font-size="21" fill="#444" textLength="154" lengthAdjust="spacingAndGlyphs">DL1000AL5_E50_539A</text>
<text x="28.5" y="1571" font-family="Liberation Sans,sans-serif" font-size="21" fill="#444" textLength="184.5" lengthAdjust="spacingAndGlyphs">CLUTCH MASTER CYLINDER</text>
</svg>
</body></html>
